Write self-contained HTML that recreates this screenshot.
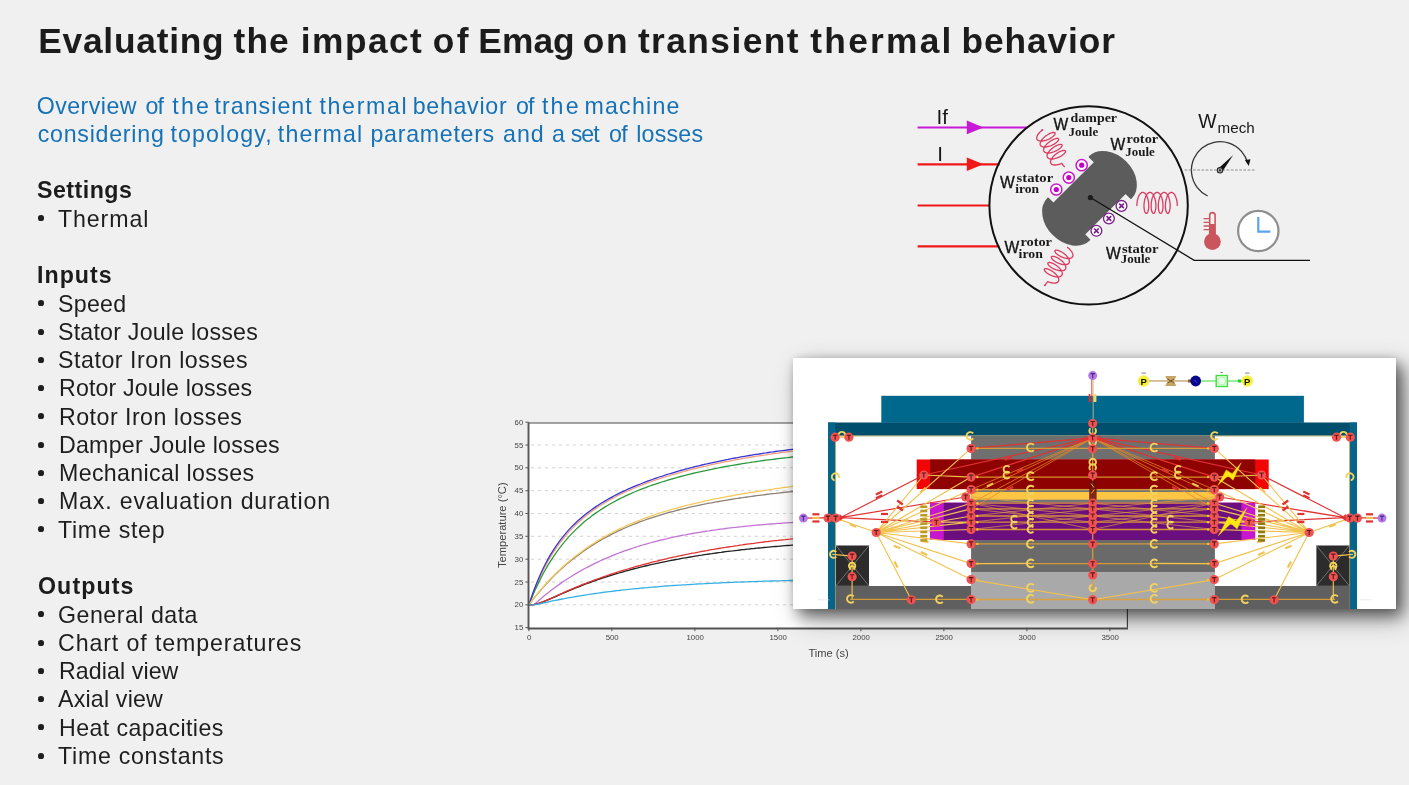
<!DOCTYPE html>
<html><head><meta charset="utf-8"><title>Evaluating the impact of Emag on transient thermal behavior</title>
<style>
html,body{margin:0;padding:0}
body{width:1409px;height:785px;overflow:hidden;background:#f0f0f0;position:relative;font-family:"Liberation Sans",sans-serif;color:#1e1e1e}
.abs{position:absolute}
h1,.l,svg{will-change:transform}
h1{position:absolute;left:0;margin:0;font-weight:bold;white-space:nowrap;color:#1c1c1c;width:1200px;height:44px}
h1 span,p.l span{position:absolute;top:0}
p.l{margin:0;left:0;width:760px;height:28px}
.l{position:absolute;white-space:nowrap;font-size:23.2px;line-height:28px}
.l.b{font-weight:bold;color:#1c1c1c}
.l.s{color:#1572b6}
.bu{position:absolute;left:37.85px;width:5.7px;height:5.7px;border-radius:50%;background:#1e1e1e}
svg text{font-family:"Liberation Sans",sans-serif}
.w{fill:#161616}
.wb{stroke:#161616;stroke-width:.35px}
.ss{font-family:"Liberation Serif",serif;font-weight:bold;font-size:12px;fill:#1a1a1a}
.ax text{font-size:7.8px;fill:#444}
.axt{font-size:11px;fill:#444}
.net{background:#fff;box-shadow:6px 7px 14px rgba(0,0,0,.50),9px 10px 26px rgba(0,0,0,.30),0 0 8px rgba(0,0,0,.10)}
.pp{font-size:9.5px;font-weight:bold;text-anchor:middle;fill:#111}
</style></head>
<body>
<!-- text -->
<h1 style="top:19.47px;font-size:35.3px;line-height:44px">
<span style="left:38.20px;letter-spacing:0.775px">Evaluating</span>
<span style="left:233.60px;letter-spacing:1.043px">the</span>
<span style="left:300.80px;letter-spacing:1.457px">impact</span>
<span style="left:432.80px;letter-spacing:2.439px">of</span>
<span style="left:478.30px;letter-spacing:0.081px">Emag</span>
<span style="left:582.80px;letter-spacing:1.639px">on</span>
<span style="left:637.90px;letter-spacing:1.449px">transient</span>
<span style="left:810.30px;letter-spacing:2.267px">thermal</span>
<span style="left:961.60px;letter-spacing:0.889px">behavior</span>
</h1>
<p class="l s" style="top:91.66px">
<span style="left:36.70px;letter-spacing:0.459px">Overview</span>
<span style="left:145.50px;letter-spacing:-0.796px">of</span>
<span style="left:172.30px;letter-spacing:2.231px">the</span>
<span style="left:214.50px;letter-spacing:1.038px">transient</span>
<span style="left:319.50px;letter-spacing:1.639px">thermal</span>
<span style="left:412.70px;letter-spacing:0.711px">behavior</span>
<span style="left:515.90px;letter-spacing:-0.796px">of</span>
<span style="left:541.90px;letter-spacing:2.231px">the</span>
<span style="left:584.40px;letter-spacing:1.242px">machine</span>
</p>
<p class="l s" style="top:119.93px">
<span style="left:37.70px;letter-spacing:0.751px">considering</span>
<span style="left:170.50px;letter-spacing:1.094px">topology,</span>
<span style="left:277.80px;letter-spacing:1.172px">thermal</span>
<span style="left:370.50px;letter-spacing:0.713px">parameters</span>
<span style="left:503.10px;letter-spacing:0.904px">and</span>
<span style="left:552.10px;letter-spacing:0.000px">a</span>
<span style="left:570.80px;letter-spacing:-1.045px">set</span>
<span style="left:609.10px;letter-spacing:-0.696px">of</span>
<span style="left:636.20px;letter-spacing:0.214px">losses</span>
</p>
<div class="l b" style="left:37.30px;top:176.47px;letter-spacing:0.489px">Settings</div>
<i class="bu" style="top:215.15px"></i>
<div class="l t" style="left:58.20px;top:204.74px;letter-spacing:0.885px">Thermal</div>
<div class="l b" style="left:37.40px;top:261.28px;letter-spacing:1.029px">Inputs</div>
<i class="bu" style="top:300.15px"></i>
<div class="l t" style="left:57.70px;top:289.55px;letter-spacing:0.262px">Speed</div>
<i class="bu" style="top:329.15px"></i>
<div class="l t" style="left:57.70px;top:317.82px;letter-spacing:0.216px">Stator Joule losses</div>
<i class="bu" style="top:357.15px"></i>
<div class="l t" style="left:57.70px;top:346.09px;letter-spacing:0.539px">Stator Iron losses</div>
<i class="bu" style="top:385.15px"></i>
<div class="l t" style="left:58.80px;top:374.36px;letter-spacing:0.138px">Rotor Joule losses</div>
<i class="bu" style="top:413.15px"></i>
<div class="l t" style="left:58.80px;top:402.63px;letter-spacing:0.477px">Rotor Iron losses</div>
<i class="bu" style="top:442.15px"></i>
<div class="l t" style="left:58.80px;top:430.90px;letter-spacing:0.227px">Damper Joule losses</div>
<i class="bu" style="top:470.15px"></i>
<div class="l t" style="left:58.80px;top:459.17px;letter-spacing:0.353px">Mechanical losses</div>
<i class="bu" style="top:498.15px"></i>
<div class="l t" style="left:58.80px;top:487.44px;letter-spacing:0.802px">Max. evaluation duration</div>
<i class="bu" style="top:526.15px"></i>
<div class="l t" style="left:58.20px;top:515.71px;letter-spacing:0.708px">Time step</div>
<div class="l b" style="left:37.60px;top:572.25px;letter-spacing:1.088px">Outputs</div>
<i class="bu" style="top:611.15px"></i>
<div class="l t" style="left:58.20px;top:600.52px;letter-spacing:0.494px">General data</div>
<i class="bu" style="top:640.15px"></i>
<div class="l t" style="left:58.20px;top:628.79px;letter-spacing:0.893px">Chart of temperatures</div>
<i class="bu" style="top:668.15px"></i>
<div class="l t" style="left:58.80px;top:657.06px;letter-spacing:0.078px">Radial view</div>
<i class="bu" style="top:696.15px"></i>
<div class="l t" style="left:58.00px;top:685.33px;letter-spacing:0.195px">Axial view</div>
<i class="bu" style="top:724.15px"></i>
<div class="l t" style="left:58.80px;top:713.60px;letter-spacing:0.412px">Heat capacities</div>
<i class="bu" style="top:753.15px"></i>
<div class="l t" style="left:58.20px;top:741.87px;letter-spacing:0.718px">Time constants</div>
<!-- machine diagram -->
<svg class="abs" style="left:900px;top:95px" width="430" height="225" viewBox="900 95 430 225">
<g stroke-width="2.2" fill="none">
<path d="M917.6,127.5H1027.6" stroke="#c81ad6"/>
<path d="M917.6,164.4H999.5M917.6,205.5H990M917.6,246.3H999.3" stroke="#f01818"/>
</g>
<path d="M966.8,120.4L983.5,127.4L966.8,134.2Z" fill="#c81ad6"/>
<path d="M966.8,157.4L983.5,164.3L966.8,171Z" fill="#f01818"/>
<text x="936.6" y="124.4" font-size="20.6" class="w">If</text>
<text x="937.2" y="160.8" font-size="20.6" class="w">I</text>
<circle cx="1088.6" cy="205.4" r="99.2" fill="none" stroke="#111" stroke-width="2"/>
<path transform="translate(1089.5,198.3) rotate(-45)" d="M-29.3,-21.7L29.3,-21.7L29.3,-29.3A21.9,29.3 0 0 1 29.3,29.3L29.3,21.7L-29.3,21.7L-29.3,29.3A21.9,29.3 0 0 1 -29.3,-29.3Z" fill="#5c5c5c" stroke="#5c5c5c" stroke-width="1.6" stroke-linejoin="round"/>
<g fill="none" stroke="#dc3c62" stroke-width="1.3" stroke-linecap="round" stroke-linejoin="round">
<path d="M1042.4,129.9 L1041.9,130.3 L1041.4,130.7 L1040.9,131.2 L1040.4,131.6 L1039.9,132.1 L1039.5,132.5 L1039.1,133.0 L1038.7,133.5 L1038.3,134.0 L1038.0,134.4 L1037.7,134.9 L1037.4,135.4 L1037.2,135.8 L1037.0,136.3 L1036.9,136.7 L1036.8,137.1 L1036.7,137.5 L1036.7,137.9 L1036.7,138.3 L1036.8,138.7 L1036.9,139.0 L1037.0,139.3 L1037.2,139.6 L1037.4,139.9 L1037.7,140.1 L1038.0,140.4 L1038.3,140.5 L1038.7,140.7 L1039.1,140.8 L1039.6,140.9 L1040.0,141.0 L1040.5,141.1 L1041.0,141.1 L1041.6,141.1 L1042.1,141.1 L1042.7,141.0 L1043.3,140.9 L1043.9,140.8 L1044.6,140.6 L1045.2,140.5 L1045.8,140.3 L1046.4,140.1 L1047.1,139.8 L1047.7,139.6 L1048.3,139.3 L1048.9,139.1 L1049.5,138.8 L1050.1,138.5 L1050.6,138.1 L1051.1,137.8 L1051.7,137.5 L1052.1,137.1 L1052.6,136.8 L1053.0,136.5 L1053.4,136.1 L1053.7,135.8 L1054.1,135.5 L1054.3,135.2 L1054.6,134.8 L1054.8,134.5 L1054.9,134.3 L1055.1,134.0 L1055.1,133.7 L1055.2,133.5 L1055.2,133.3 L1055.1,133.1 L1055.0,132.9 L1054.9,132.8 L1054.7,132.7 L1054.5,132.6 L1054.3,132.5 L1054.0,132.5 L1053.7,132.5 L1053.3,132.5 L1053.0,132.5 L1052.6,132.6 L1052.1,132.7 L1051.7,132.8 L1051.2,133.0 L1050.7,133.2 L1050.2,133.4 L1049.6,133.6 L1049.1,133.9 L1048.6,134.2 L1048.0,134.5 L1047.5,134.8 L1046.9,135.2 L1046.4,135.5 L1045.8,135.9 L1045.3,136.3 L1044.8,136.8 L1044.3,137.2 L1043.8,137.7 L1043.3,138.1 L1042.9,138.6 L1042.5,139.0 L1042.1,139.5 L1041.7,140.0 L1041.4,140.5 L1041.1,140.9 L1040.9,141.4 L1040.6,141.8 L1040.5,142.3 L1040.3,142.7 L1040.2,143.2 L1040.2,143.6 L1040.1,144.0 L1040.2,144.3 L1040.2,144.7 L1040.3,145.0 L1040.5,145.3 L1040.7,145.6 L1040.9,145.9 L1041.2,146.1 L1041.5,146.4 L1041.8,146.5 L1042.2,146.7 L1042.6,146.8 L1043.1,146.9 L1043.5,147.0 L1044.0,147.1 L1044.5,147.1 L1045.1,147.1 L1045.7,147.0 L1046.2,147.0 L1046.8,146.9 L1047.5,146.7 L1048.1,146.6 L1048.7,146.4 L1049.3,146.2 L1050.0,146.0 L1050.6,145.8 L1051.2,145.5 L1051.8,145.3 L1052.4,145.0 L1053.0,144.7 L1053.6,144.4 L1054.1,144.1 L1054.7,143.7 L1055.2,143.4 L1055.6,143.1 L1056.1,142.7 L1056.5,142.4 L1056.9,142.1 L1057.2,141.7 L1057.5,141.4 L1057.8,141.1 L1058.1,140.8 L1058.3,140.5 L1058.4,140.2 L1058.5,139.9 L1058.6,139.7 L1058.6,139.5 L1058.6,139.2 L1058.6,139.1 L1058.5,138.9 L1058.3,138.7 L1058.2,138.6 L1058.0,138.5 L1057.7,138.5 L1057.4,138.4 L1057.1,138.4 L1056.7,138.4 L1056.4,138.5 L1056.0,138.6 L1055.5,138.7 L1055.1,138.8 L1054.6,139.0 L1054.1,139.2 L1053.6,139.4 L1053.0,139.6 L1052.5,139.9 L1052.0,140.2 L1051.4,140.5 L1050.9,140.8 L1050.3,141.2 L1049.8,141.6 L1049.2,142.0 L1048.7,142.4 L1048.2,142.8 L1047.7,143.2 L1047.2,143.7 L1046.7,144.1 L1046.3,144.6 L1045.9,145.1 L1045.5,145.5 L1045.1,146.0 L1044.8,146.5 L1044.5,147.0 L1044.3,147.4 L1044.1,147.9 L1043.9,148.3 L1043.8,148.8 L1043.7,149.2 L1043.6,149.6 L1043.6,150.0 L1043.6,150.3 L1043.7,150.7 L1043.8,151.0 L1044.0,151.3 L1044.2,151.6 L1044.4,151.9 L1044.7,152.1 L1045.0,152.3 L1045.3,152.5 L1045.7,152.7 L1046.1,152.8 L1046.6,152.9 L1047.0,153.0 L1047.5,153.0 L1048.1,153.0 L1048.6,153.0 L1049.2,153.0 L1049.8,152.9 L1050.4,152.8 L1051.0,152.7 L1051.6,152.6 L1052.2,152.4 L1052.8,152.2 L1053.5,152.0 L1054.1,151.7 L1054.7,151.5 L1055.3,151.2 L1055.9,150.9 L1056.5,150.6 L1057.1,150.3 L1057.6,150.0 L1058.2,149.7 L1058.7,149.4 L1059.1,149.0 L1059.6,148.7 L1060.0,148.3 L1060.4,148.0 L1060.7,147.7 L1061.0,147.3 L1061.3,147.0 L1061.5,146.7 L1061.7,146.4 L1061.9,146.1 L1062.0,145.9 L1062.0,145.6 L1062.1,145.4 L1062.1,145.2 L1062.0,145.0 L1061.9,144.8 L1061.8,144.7 L1061.6,144.6 L1061.4,144.5 L1061.1,144.4 L1060.8,144.4 L1060.5,144.4 L1060.2,144.4 L1059.8,144.5 L1059.4,144.6 L1058.9,144.7 L1058.5,144.8 L1058.0,145.0 L1057.5,145.2 L1057.0,145.4 L1056.4,145.6 L1055.9,145.9 L1055.3,146.2 L1054.8,146.5 L1054.2,146.8 L1053.7,147.2 L1053.1,147.6 L1052.6,148.0 L1052.1,148.4 L1051.6,148.8 L1051.1,149.3 L1050.6,149.7 L1050.1,150.2 L1049.7,150.6 L1049.3,151.1 L1048.9,151.6 L1048.6,152.0 L1048.2,152.5 L1048.0,153.0 L1047.7,153.4 L1047.5,153.9 L1047.3,154.3 L1047.2,154.8 L1047.1,155.2 L1047.1,155.6 L1047.0,156.0 L1047.1,156.4 L1047.2,156.7 L1047.3,157.0 L1047.4,157.4 L1047.6,157.6 L1047.9,157.9 L1048.1,158.1 L1048.5,158.3 L1048.8,158.5 L1049.2,158.7 L1049.6,158.8 L1050.1,158.9 L1050.5,159.0 L1051.0,159.0 L1051.6,159.0 L1052.1,159.0 L1052.7,159.0 L1053.3,158.9 L1053.9,158.8 L1054.5,158.7 L1055.1,158.5 L1055.7,158.3 L1056.4,158.1 L1057.0,157.9 L1057.6,157.7 L1058.2,157.4 L1058.9,157.2 L1059.5,156.9 L1060.0,156.6 L1060.6,156.3 L1061.1,156.0 L1061.7,155.6 L1062.2,155.3 L1062.6,155.0 L1063.1,154.6 L1063.5,154.3 L1063.9,153.9 L1064.2,153.6 L1064.5,153.3 L1064.8,153.0 L1065.0,152.7 L1065.2,152.4 L1065.3,152.1 L1065.4,151.8 L1065.5,151.6 L1065.5,151.4 L1065.5,151.2 L1065.4,151.0 L1065.3,150.8 L1065.2,150.7 L1065.0,150.6 L1064.8,150.5 L1064.5,150.4 L1064.2,150.4 L1063.9,150.4 L1063.6,150.4 L1063.2,150.5 L1062.8,150.5 L1062.3,150.6 L1061.9,150.8 L1061.4,151.0 L1060.9,151.2 L1060.4,151.4 L1059.8,151.6 L1059.3,151.9 L1058.7,152.2 L1058.2,152.5 L1057.6,152.9 L1057.1,153.2 L1056.5,153.6 L1056.0,154.0 L1055.5,154.4 L1055.0,154.8 L1054.5,155.3 L1054.0,155.7 L1053.5,156.2 L1053.1,156.7 L1052.7,157.1 L1052.3,157.6 L1052.0,158.1 L1051.7,158.5 L1051.4,159.0 L1051.1,159.5 L1050.9,159.9 L1050.8,160.4 L1050.6,160.8 L1050.5,161.2 L1050.5,161.6 L1050.5,162.0 L1050.5,162.4 L1050.6,162.7 L1050.7,163.1 L1050.9,163.4 L1051.1,163.6 L1051.3,163.9 L1051.6,164.1 L1051.9,164.3 L1052.3,164.5 L1052.7,164.7 L1053.1,164.8 L1053.6,164.9 L1054.0,165.0 L1054.5,165.0 L1055.1,165.0 L1055.6,165.0 L1056.2,164.9 L1056.8,164.9 L1057.4,164.7 L1058.0,164.6 L1058.6,164.5 L1059.3,164.3 L1059.9,164.1 L1060.5,163.9 L1061.1,163.6 L1061.8,163.4 Q1063.4,166.0 1064.4,166.6"/>
<path d="M1136.9,205.5 L1136.9,204.8 L1136.9,204.0 L1137.0,203.3 L1137.1,202.5 L1137.2,201.8 L1137.3,201.0 L1137.4,200.3 L1137.6,199.5 L1137.8,198.8 L1138.0,198.2 L1138.2,197.5 L1138.4,196.9 L1138.7,196.3 L1139.0,195.7 L1139.3,195.2 L1139.6,194.7 L1139.9,194.2 L1140.2,193.8 L1140.5,193.5 L1140.9,193.2 L1141.2,192.9 L1141.6,192.7 L1141.9,192.5 L1142.3,192.4 L1142.7,192.4 L1143.1,192.4 L1143.4,192.5 L1143.8,192.6 L1144.2,192.8 L1144.5,193.0 L1144.9,193.3 L1145.2,193.6 L1145.5,194.0 L1145.9,194.4 L1146.2,194.8 L1146.5,195.4 L1146.7,195.9 L1147.0,196.5 L1147.3,197.1 L1147.5,197.7 L1147.7,198.4 L1147.9,199.1 L1148.1,199.8 L1148.2,200.5 L1148.4,201.3 L1148.5,202.0 L1148.6,202.8 L1148.6,203.5 L1148.7,204.3 L1148.7,205.0 L1148.7,205.8 L1148.7,206.5 L1148.7,207.2 L1148.7,207.9 L1148.6,208.5 L1148.5,209.1 L1148.4,209.7 L1148.3,210.3 L1148.2,210.8 L1148.0,211.3 L1147.9,211.7 L1147.7,212.1 L1147.5,212.4 L1147.4,212.7 L1147.2,213.0 L1147.0,213.2 L1146.8,213.3 L1146.6,213.4 L1146.4,213.4 L1146.2,213.4 L1146.0,213.3 L1145.8,213.2 L1145.6,213.0 L1145.4,212.7 L1145.2,212.4 L1145.0,212.1 L1144.8,211.7 L1144.7,211.3 L1144.5,210.8 L1144.4,210.3 L1144.3,209.7 L1144.2,209.1 L1144.1,208.5 L1144.1,207.8 L1144.0,207.2 L1144.0,206.5 L1144.0,205.7 L1144.0,205.0 L1144.0,204.3 L1144.1,203.5 L1144.2,202.8 L1144.3,202.0 L1144.4,201.3 L1144.5,200.5 L1144.7,199.8 L1144.9,199.1 L1145.0,198.4 L1145.3,197.7 L1145.5,197.1 L1145.7,196.5 L1146.0,195.9 L1146.3,195.3 L1146.6,194.8 L1146.9,194.4 L1147.2,194.0 L1147.6,193.6 L1147.9,193.3 L1148.2,193.0 L1148.6,192.8 L1149.0,192.6 L1149.3,192.5 L1149.7,192.4 L1150.1,192.4 L1150.4,192.4 L1150.8,192.5 L1151.2,192.7 L1151.5,192.9 L1151.9,193.2 L1152.2,193.5 L1152.6,193.8 L1152.9,194.2 L1153.2,194.7 L1153.5,195.2 L1153.8,195.7 L1154.0,196.3 L1154.3,196.9 L1154.5,197.5 L1154.8,198.2 L1155.0,198.9 L1155.1,199.6 L1155.3,200.3 L1155.5,201.0 L1155.6,201.8 L1155.7,202.5 L1155.8,203.3 L1155.8,204.0 L1155.9,204.8 L1155.9,205.5 L1155.9,206.2 L1155.9,207.0 L1155.8,207.6 L1155.8,208.3 L1155.7,208.9 L1155.6,209.5 L1155.5,210.1 L1155.4,210.6 L1155.2,211.1 L1155.1,211.6 L1154.9,212.0 L1154.7,212.3 L1154.6,212.6 L1154.4,212.9 L1154.2,213.1 L1154.0,213.3 L1153.8,213.4 L1153.6,213.4 L1153.4,213.4 L1153.2,213.3 L1153.0,213.2 L1152.8,213.0 L1152.6,212.8 L1152.4,212.5 L1152.2,212.2 L1152.0,211.8 L1151.9,211.4 L1151.7,211.0 L1151.6,210.5 L1151.5,209.9 L1151.4,209.3 L1151.3,208.7 L1151.2,208.1 L1151.2,207.4 L1151.1,206.7 L1151.1,206.0 L1151.1,205.3 L1151.2,204.5 L1151.2,203.8 L1151.3,203.0 L1151.4,202.3 L1151.5,201.5 L1151.6,200.8 L1151.8,200.0 L1151.9,199.3 L1152.1,198.6 L1152.3,197.9 L1152.6,197.3 L1152.8,196.7 L1153.1,196.1 L1153.3,195.5 L1153.6,195.0 L1153.9,194.5 L1154.2,194.1 L1154.6,193.7 L1154.9,193.4 L1155.3,193.1 L1155.6,192.8 L1156.0,192.6 L1156.3,192.5 L1156.7,192.4 L1157.1,192.4 L1157.4,192.4 L1157.8,192.5 L1158.2,192.6 L1158.5,192.8 L1158.9,193.1 L1159.2,193.4 L1159.6,193.7 L1159.9,194.1 L1160.2,194.5 L1160.5,195.0 L1160.8,195.5 L1161.1,196.1 L1161.4,196.7 L1161.6,197.3 L1161.8,197.9 L1162.0,198.6 L1162.2,199.3 L1162.4,200.0 L1162.5,200.8 L1162.7,201.5 L1162.8,202.3 L1162.9,203.0 L1162.9,203.8 L1163.0,204.5 L1163.0,205.3 L1163.0,206.0 L1163.0,206.7 L1163.0,207.4 L1162.9,208.1 L1162.9,208.7 L1162.8,209.3 L1162.7,209.9 L1162.6,210.5 L1162.4,211.0 L1162.3,211.4 L1162.1,211.8 L1161.9,212.2 L1161.8,212.5 L1161.6,212.8 L1161.4,213.0 L1161.2,213.2 L1161.0,213.3 L1160.8,213.4 L1160.6,213.4 L1160.4,213.4 L1160.2,213.3 L1160.0,213.1 L1159.8,212.9 L1159.6,212.6 L1159.4,212.3 L1159.2,212.0 L1159.1,211.6 L1158.9,211.1 L1158.8,210.6 L1158.7,210.1 L1158.6,209.5 L1158.5,208.9 L1158.4,208.3 L1158.3,207.6 L1158.3,207.0 L1158.3,206.2 L1158.3,205.5 L1158.3,204.8 L1158.3,204.0 L1158.4,203.3 L1158.5,202.5 L1158.6,201.8 L1158.7,201.0 L1158.8,200.3 L1159.0,199.6 L1159.2,198.9 L1159.4,198.2 L1159.6,197.5 L1159.8,196.9 L1160.1,196.3 L1160.4,195.7 L1160.7,195.2 L1161.0,194.7 L1161.3,194.2 L1161.6,193.8 L1161.9,193.5 L1162.3,193.2 L1162.6,192.9 L1163.0,192.7 L1163.4,192.5 L1163.7,192.4 L1164.1,192.4 L1164.5,192.4 L1164.8,192.5 L1165.2,192.6 L1165.6,192.8 L1165.9,193.0 L1166.3,193.3 L1166.6,193.6 L1166.9,194.0 L1167.3,194.4 L1167.6,194.8 L1167.9,195.3 L1168.1,195.9 L1168.4,196.5 L1168.7,197.1 L1168.9,197.7 L1169.1,198.4 L1169.3,199.1 L1169.5,199.8 L1169.6,200.5 L1169.8,201.3 L1169.9,202.0 L1170.0,202.8 L1170.1,203.5 L1170.1,204.3 L1170.1,205.0 L1170.2,205.7 L1170.2,206.5 L1170.1,207.2 L1170.1,207.8 L1170.0,208.5 L1169.9,209.1 L1169.8,209.7 L1169.7,210.3 L1169.6,210.8 L1169.5,211.3 L1169.3,211.7 L1169.1,212.1 L1169.0,212.4 L1168.8,212.7 L1168.6,213.0 L1168.4,213.2 L1168.2,213.3 L1168.0,213.4 L1167.8,213.4 L1167.6,213.4 L1167.4,213.3 L1167.2,213.2 L1167.0,213.0 L1166.8,212.7 L1166.6,212.4 L1166.4,212.1 L1166.3,211.7 L1166.1,211.3 L1166.0,210.8 L1165.8,210.3 L1165.7,209.7 L1165.6,209.1 L1165.5,208.5 L1165.5,207.9 L1165.4,207.2 L1165.4,206.5 L1165.4,205.8 L1165.4,205.0 L1165.5,204.3 L1165.5,203.5 L1165.6,202.8 L1165.7,202.0 L1165.8,201.3 L1165.9,200.5 L1166.1,199.8 L1166.3,199.1 L1166.5,198.4 L1166.7,197.7 L1166.9,197.1 L1167.1,196.5 L1167.4,195.9 L1167.7,195.4 L1168.0,194.8 L1168.3,194.4 L1168.6,194.0 L1169.0,193.6 L1169.3,193.3 L1169.6,193.0 L1170.0,192.8 L1170.4,192.6 L1170.7,192.5 L1171.1,192.4 L1171.5,192.4 L1171.8,192.4 L1172.2,192.5 L1172.6,192.7 L1172.9,192.9 L1173.3,193.2 L1173.6,193.5 L1174.0,193.8 L1174.3,194.2 L1174.6,194.7 L1174.9,195.2 L1175.2,195.7 L1175.5,196.3 L1175.7,196.9 L1175.9,197.5 L1176.2,198.2 L1176.4,198.8 L1176.6,199.5 L1176.7,200.3 L1176.9,201.0 L1177.0,201.8 L1177.1,202.5 L1177.2,203.3 L1177.2,204.0 L1177.3,204.8 L1177.3,205.5"/>
<path d="M1067.5,247.4 L1068.0,247.8 L1068.5,248.2 L1069.0,248.6 L1069.5,249.0 L1069.9,249.5 L1070.3,250.0 L1070.7,250.4 L1071.1,250.9 L1071.4,251.3 L1071.8,251.8 L1072.0,252.3 L1072.3,252.7 L1072.5,253.2 L1072.7,253.6 L1072.8,254.1 L1072.9,254.5 L1072.9,254.9 L1073.0,255.3 L1072.9,255.7 L1072.9,256.0 L1072.8,256.4 L1072.6,256.7 L1072.4,257.0 L1072.2,257.2 L1071.9,257.5 L1071.6,257.7 L1071.3,257.9 L1070.9,258.1 L1070.5,258.2 L1070.1,258.3 L1069.7,258.4 L1069.2,258.5 L1068.7,258.5 L1068.1,258.5 L1067.6,258.5 L1067.0,258.4 L1066.4,258.4 L1065.8,258.2 L1065.2,258.1 L1064.6,258.0 L1064.0,257.8 L1063.4,257.6 L1062.8,257.4 L1062.2,257.1 L1061.6,256.9 L1061.0,256.6 L1060.4,256.3 L1059.9,256.0 L1059.3,255.7 L1058.8,255.4 L1058.3,255.1 L1057.9,254.8 L1057.4,254.4 L1057.0,254.1 L1056.6,253.8 L1056.3,253.5 L1056.0,253.2 L1055.7,252.8 L1055.5,252.5 L1055.3,252.3 L1055.2,252.0 L1055.0,251.7 L1055.0,251.5 L1054.9,251.2 L1054.9,251.0 L1055.0,250.8 L1055.1,250.7 L1055.2,250.5 L1055.4,250.4 L1055.6,250.3 L1055.8,250.2 L1056.1,250.2 L1056.4,250.2 L1056.7,250.2 L1057.1,250.2 L1057.5,250.3 L1057.9,250.4 L1058.4,250.5 L1058.8,250.7 L1059.3,250.9 L1059.8,251.1 L1060.3,251.3 L1060.8,251.6 L1061.4,251.8 L1061.9,252.1 L1062.4,252.5 L1062.9,252.8 L1063.5,253.2 L1064.0,253.6 L1064.5,254.0 L1065.0,254.4 L1065.5,254.8 L1066.0,255.2 L1066.4,255.7 L1066.8,256.2 L1067.2,256.6 L1067.6,257.1 L1067.9,257.5 L1068.2,258.0 L1068.5,258.5 L1068.8,258.9 L1069.0,259.4 L1069.1,259.8 L1069.3,260.3 L1069.3,260.7 L1069.4,261.1 L1069.4,261.5 L1069.4,261.9 L1069.3,262.2 L1069.2,262.5 L1069.0,262.9 L1068.9,263.2 L1068.6,263.4 L1068.4,263.7 L1068.1,263.9 L1067.7,264.1 L1067.4,264.2 L1067.0,264.4 L1066.5,264.5 L1066.1,264.6 L1065.6,264.6 L1065.1,264.7 L1064.5,264.7 L1064.0,264.6 L1063.4,264.6 L1062.8,264.5 L1062.2,264.4 L1061.6,264.3 L1061.0,264.1 L1060.4,263.9 L1059.8,263.7 L1059.2,263.5 L1058.6,263.3 L1058.0,263.0 L1057.4,262.7 L1056.8,262.5 L1056.3,262.2 L1055.7,261.8 L1055.2,261.5 L1054.7,261.2 L1054.3,260.9 L1053.8,260.6 L1053.4,260.2 L1053.1,259.9 L1052.7,259.6 L1052.4,259.3 L1052.2,259.0 L1051.9,258.7 L1051.7,258.4 L1051.6,258.1 L1051.5,257.8 L1051.4,257.6 L1051.4,257.4 L1051.4,257.2 L1051.4,257.0 L1051.5,256.8 L1051.7,256.7 L1051.8,256.5 L1052.0,256.5 L1052.3,256.4 L1052.6,256.3 L1052.9,256.3 L1053.2,256.4 L1053.6,256.4 L1054.0,256.5 L1054.4,256.6 L1054.9,256.7 L1055.3,256.8 L1055.8,257.0 L1056.3,257.2 L1056.8,257.5 L1057.3,257.7 L1057.9,258.0 L1058.4,258.3 L1058.9,258.7 L1059.5,259.0 L1060.0,259.4 L1060.5,259.8 L1061.0,260.2 L1061.5,260.6 L1062.0,261.0 L1062.5,261.4 L1062.9,261.9 L1063.3,262.4 L1063.7,262.8 L1064.1,263.3 L1064.4,263.7 L1064.7,264.2 L1065.0,264.7 L1065.2,265.1 L1065.4,265.6 L1065.6,266.0 L1065.7,266.5 L1065.8,266.9 L1065.9,267.3 L1065.9,267.7 L1065.8,268.0 L1065.7,268.4 L1065.6,268.7 L1065.5,269.0 L1065.3,269.3 L1065.1,269.6 L1064.8,269.8 L1064.5,270.1 L1064.1,270.3 L1063.8,270.4 L1063.4,270.5 L1062.9,270.7 L1062.5,270.7 L1062.0,270.8 L1061.4,270.8 L1060.9,270.8 L1060.4,270.8 L1059.8,270.7 L1059.2,270.6 L1058.6,270.5 L1058.0,270.4 L1057.4,270.2 L1056.8,270.0 L1056.2,269.8 L1055.5,269.6 L1054.9,269.4 L1054.4,269.1 L1053.8,268.9 L1053.2,268.6 L1052.6,268.3 L1052.1,268.0 L1051.6,267.6 L1051.1,267.3 L1050.7,267.0 L1050.2,266.7 L1049.8,266.3 L1049.5,266.0 L1049.1,265.7 L1048.8,265.4 L1048.6,265.1 L1048.4,264.8 L1048.2,264.5 L1048.0,264.2 L1047.9,264.0 L1047.9,263.7 L1047.8,263.5 L1047.8,263.3 L1047.9,263.1 L1048.0,262.9 L1048.1,262.8 L1048.3,262.7 L1048.5,262.6 L1048.8,262.5 L1049.0,262.5 L1049.4,262.5 L1049.7,262.5 L1050.1,262.5 L1050.5,262.6 L1050.9,262.7 L1051.4,262.9 L1051.8,263.0 L1052.3,263.2 L1052.8,263.4 L1053.3,263.7 L1053.8,263.9 L1054.4,264.2 L1054.9,264.5 L1055.4,264.8 L1056.0,265.2 L1056.5,265.6 L1057.0,265.9 L1057.5,266.4 L1058.0,266.8 L1058.5,267.2 L1059.0,267.6 L1059.4,268.1 L1059.8,268.6 L1060.2,269.0 L1060.6,269.5 L1060.9,269.9 L1061.2,270.4 L1061.5,270.9 L1061.7,271.3 L1061.9,271.8 L1062.1,272.2 L1062.2,272.7 L1062.3,273.1 L1062.3,273.5 L1062.3,273.9 L1062.3,274.2 L1062.2,274.6 L1062.1,274.9 L1061.9,275.2 L1061.7,275.5 L1061.5,275.8 L1061.2,276.0 L1060.9,276.2 L1060.5,276.4 L1060.2,276.6 L1059.8,276.7 L1059.3,276.8 L1058.8,276.9 L1058.4,276.9 L1057.8,277.0 L1057.3,277.0 L1056.7,276.9 L1056.2,276.9 L1055.6,276.8 L1055.0,276.7 L1054.4,276.5 L1053.8,276.4 L1053.2,276.2 L1052.5,276.0 L1051.9,275.7 L1051.3,275.5 L1050.7,275.2 L1050.2,275.0 L1049.6,274.7 L1049.0,274.4 L1048.5,274.1 L1048.0,273.8 L1047.5,273.4 L1047.1,273.1 L1046.6,272.8 L1046.2,272.5 L1045.9,272.1 L1045.5,271.8 L1045.3,271.5 L1045.0,271.2 L1044.8,270.9 L1044.6,270.6 L1044.5,270.3 L1044.4,270.1 L1044.3,269.8 L1044.3,269.6 L1044.3,269.4 L1044.4,269.2 L1044.5,269.1 L1044.6,268.9 L1044.8,268.8 L1045.0,268.7 L1045.2,268.7 L1045.5,268.6 L1045.8,268.6 L1046.2,268.7 L1046.6,268.7 L1047.0,268.8 L1047.4,268.9 L1047.9,269.0 L1048.3,269.2 L1048.8,269.4 L1049.3,269.6 L1049.8,269.8 L1050.3,270.1 L1050.9,270.4 L1051.4,270.7 L1051.9,271.0 L1052.5,271.4 L1053.0,271.8 L1053.5,272.1 L1054.0,272.5 L1054.5,273.0 L1055.0,273.4 L1055.5,273.8 L1055.9,274.3 L1056.3,274.8 L1056.7,275.2 L1057.1,275.7 L1057.4,276.1 L1057.7,276.6 L1057.9,277.1 L1058.2,277.5 L1058.4,278.0 L1058.5,278.4 L1058.6,278.8 L1058.7,279.3 L1058.8,279.7 L1058.8,280.1 L1058.7,280.4 L1058.6,280.8 L1058.5,281.1 L1058.3,281.4 L1058.1,281.7 L1057.9,282.0 L1057.6,282.2 L1057.3,282.4 L1057.0,282.6 L1056.6,282.7 L1056.2,282.9 L1055.7,283.0 L1055.2,283.0 L1054.7,283.1 L1054.2,283.1 L1053.7,283.1 L1053.1,283.1 L1052.6,283.0 L1052.0,282.9 L1051.4,282.8 L1050.8,282.6 L1050.1,282.5 L1049.5,282.3 L1048.9,282.1 L1048.3,281.9 L1047.7,281.6 Q1045.9,283.8 1044.8,285.3"/>
</g>
<circle cx="1042.4" cy="129.9" r="1.0" fill="#dc3c62"/><circle cx="1044.8" cy="285.3" r="0.9" fill="#dc3c62"/>
<circle cx="1081.7" cy="165.2" r="5.6" fill="#fff" stroke="#c81ac8" stroke-width="1.5"/><circle cx="1081.7" cy="165.2" r="2.6" fill="#c400c4"/>
<circle cx="1068.8" cy="177.6" r="5.6" fill="#fff" stroke="#c81ac8" stroke-width="1.5"/><circle cx="1068.8" cy="177.6" r="2.6" fill="#c400c4"/>
<circle cx="1056.3" cy="189.5" r="5.6" fill="#fff" stroke="#c81ac8" stroke-width="1.5"/><circle cx="1056.3" cy="189.5" r="2.6" fill="#c400c4"/>
<circle cx="1121.5" cy="205.9" r="5.4" fill="#fff" stroke="#7a1e8c" stroke-width="1.3"/><path d="M1119.2,203.6l4.6,4.6M1123.8,203.6l-4.6,4.6" stroke="#7a1e8c" stroke-width="1.7"/>
<circle cx="1108.9" cy="218.5" r="5.4" fill="#fff" stroke="#7a1e8c" stroke-width="1.3"/><path d="M1106.6000000000001,216.2l4.6,4.6M1111.2,216.2l-4.6,4.6" stroke="#7a1e8c" stroke-width="1.7"/>
<circle cx="1096.4" cy="230.8" r="5.4" fill="#fff" stroke="#7a1e8c" stroke-width="1.3"/><path d="M1094.1000000000001,228.5l4.6,4.6M1098.7,228.5l-4.6,4.6" stroke="#7a1e8c" stroke-width="1.7"/>
<path d="M1090.4,197.6L1194.2,260.3H1310" fill="none" stroke="#111" stroke-width="1.2"/>
<circle cx="1090.4" cy="197.6" r="2.6" fill="#1c1c1c"/>
<text x="1053.6" y="130.4" font-size="15.6" class="w wb">W</text><text x="1070.6" y="121.6" class="ss" textLength="46.4" lengthAdjust="spacingAndGlyphs">damper</text><text x="1068.6" y="136.4" class="ss" textLength="29.6" lengthAdjust="spacingAndGlyphs">Joule</text>
<text x="1110.4" y="150.2" font-size="15.6" class="w wb">W</text><text x="1126.6" y="143.3" class="ss" textLength="31.6" lengthAdjust="spacingAndGlyphs">rotor</text><text x="1125.2" y="155.7" class="ss" textLength="29.6" lengthAdjust="spacingAndGlyphs">Joule</text>
<text x="1000.0" y="188.4" font-size="15.6" class="w wb">W</text><text x="1016.6" y="181.6" class="ss" textLength="36.6" lengthAdjust="spacingAndGlyphs">stator</text><text x="1015.3" y="192.9" class="ss" textLength="23.8" lengthAdjust="spacingAndGlyphs">iron</text>
<text x="1004.4" y="252.8" font-size="15.6" class="w wb">W</text><text x="1020.4" y="246.1" class="ss" textLength="31.6" lengthAdjust="spacingAndGlyphs">rotor</text><text x="1018.6" y="258.0" class="ss" textLength="24.2" lengthAdjust="spacingAndGlyphs">iron</text>
<text x="1105.9" y="259.2" font-size="15.6" class="w wb">W</text><text x="1121.9" y="252.8" class="ss" textLength="36.6" lengthAdjust="spacingAndGlyphs">stator</text><text x="1120.8" y="263.3" class="ss" textLength="29.6" lengthAdjust="spacingAndGlyphs">Joule</text>
<text x="1198.2" y="128.1" font-size="19.4" class="w">W</text>
<text x="1217.6" y="133.4" font-size="14.6" class="w" textLength="37.2" lengthAdjust="spacingAndGlyphs">mech</text>
<path d="M1207.6,196.0A28.6,28.6 0 1 1 1247.8,163.4" fill="none" stroke="#333" stroke-width="1.3"/>
<path d="M1244.9,160.0L1250.4,159.2L1248.8,166.0Z" fill="#111"/>
<path d="M1184.7,170H1254.7" stroke="#8a8a8a" stroke-width="1" stroke-dasharray="2.6 1.6"/>
<path d="M1233.2,155L1222.1,172.0L1218.3,168.6Z" fill="#111"/>
<circle cx="1220.0" cy="170.3" r="2.7" fill="#bbb" stroke="#222" stroke-width="1.1"/><circle cx="1220.0" cy="170.3" r="1.1" fill="#222"/>
<circle cx="1212.4" cy="241.6" r="8.4" fill="#c9565c"/>
<path d="M1208.9,236V215.2a3.5,3.5 0 0 1 7,0V236Z" fill="#c9565c"/>
<path d="M1210.5,224V215.4a1.9,1.9 0 0 1 3.8,0V224Z" fill="#f7efef"/>
<path d="M1203.6,218.6h5.4M1203.6,222.3h5.4M1203.6,226h5.4M1203.6,229.7h5.4" stroke="#c9565c" stroke-width="1.3"/>
<circle cx="1258.3" cy="231" r="20.2" fill="#fff" stroke="#8e8e8e" stroke-width="2.2"/>
<path d="M1258.3,216.9V231.6H1270.4" fill="none" stroke="#5aa4ea" stroke-width="2.2"/>
</svg>
<!-- chart -->
<svg class="abs" style="left:490px;top:410px" width="660" height="260" viewBox="490 410 660 260">
<rect x="528.9" y="423.0" width="598.5000000000001" height="204.70000000000005" fill="#fff"/>
<path d="M530.9,604.8H1127.4M530.9,582.0H1127.4M530.9,559.2H1127.4M530.9,536.3H1127.4M530.9,513.5H1127.4M530.9,490.7H1127.4M530.9,467.8H1127.4M530.9,445.0H1127.4" stroke="#d2d2d2" stroke-width="1" stroke-dasharray="3.2 3.8" fill="none"/>
<path d="M528.9,604.8 L531.3,598.2 L533.6,591.9 L536.0,586.0 L538.4,580.5 L540.8,575.3 L543.1,570.5 L545.5,565.9 L547.9,561.5 L550.2,557.4 L552.6,553.6 L555.0,549.9 L557.4,546.5 L559.7,543.2 L562.1,540.1 L564.5,537.1 L566.8,534.3 L569.2,531.6 L571.6,529.1 L574.0,526.6 L576.3,524.3 L578.7,522.1 L581.1,520.0 L583.4,517.9 L585.8,516.0 L588.2,514.1 L590.6,512.3 L592.9,510.6 L595.3,508.9 L597.7,507.3 L600.0,505.7 L602.4,504.2 L604.8,502.8 L607.2,501.4 L609.5,500.0 L611.9,498.7 L614.3,497.5 L616.6,496.2 L619.0,495.0 L621.4,493.9 L623.8,492.7 L626.1,491.6 L628.5,490.6 L630.9,489.5 L633.2,488.5 L635.6,487.5 L638.0,486.5 L640.4,485.6 L642.7,484.7 L645.1,483.8 L647.5,482.9 L649.8,482.0 L652.2,481.2 L654.6,480.4 L657.0,479.5 L659.3,478.8 L661.7,478.0 L664.1,477.2 L666.4,476.5 L668.8,475.8 L671.2,475.0 L673.6,474.3 L675.9,473.6 L678.3,473.0 L680.7,472.3 L683.0,471.7 L685.4,471.0 L687.8,470.4 L690.2,469.8 L692.5,469.2 L694.9,468.6 L697.3,468.0 L699.6,467.4 L702.0,466.9 L704.4,466.3 L706.8,465.8 L709.1,465.2 L711.5,464.7 L713.9,464.2 L716.2,463.7 L718.6,463.2 L721.0,462.7 L723.4,462.2 L725.7,461.7 L728.1,461.3 L730.5,460.8 L732.8,460.4 L735.2,459.9 L737.6,459.5 L740.0,459.1 L742.3,458.6 L744.7,458.2 L747.1,457.8 L749.4,457.4 L751.8,457.0 L754.2,456.6 L756.6,456.2 L758.9,455.9 L761.3,455.5 L763.7,455.1 L766.0,454.8 L768.4,454.4 L770.8,454.1 L773.2,453.7 L775.5,453.4 L777.9,453.1 L780.3,452.7 L782.6,452.4 L785.0,452.1 L787.4,451.8 L789.8,451.5 L792.1,451.2 L794.5,450.9 L796.9,450.6 L799.2,450.3 L801.6,450.0 L804.0,449.8 L806.4,449.5 L808.7,449.2 L811.1,449.0" fill="none" stroke="#f0a078" stroke-width="1.3"/>
<path d="M528.9,604.8 L531.3,598.9 L533.6,593.4 L536.0,588.1 L538.4,583.1 L540.8,578.3 L543.1,573.8 L545.5,569.5 L547.9,565.4 L550.2,561.6 L552.6,557.9 L555.0,554.4 L557.4,551.0 L559.7,547.8 L562.1,544.8 L564.5,541.9 L566.8,539.1 L569.2,536.4 L571.6,533.9 L574.0,531.4 L576.3,529.1 L578.7,526.9 L581.1,524.7 L583.4,522.6 L585.8,520.6 L588.2,518.7 L590.6,516.9 L592.9,515.1 L595.3,513.4 L597.7,511.8 L600.0,510.2 L602.4,508.6 L604.8,507.1 L607.2,505.7 L609.5,504.3 L611.9,503.0 L614.3,501.7 L616.6,500.4 L619.0,499.2 L621.4,498.0 L623.8,496.8 L626.1,495.7 L628.5,494.6 L630.9,493.6 L633.2,492.5 L635.6,491.5 L638.0,490.5 L640.4,489.6 L642.7,488.7 L645.1,487.8 L647.5,486.9 L649.8,486.0 L652.2,485.2 L654.6,484.4 L657.0,483.6 L659.3,482.8 L661.7,482.0 L664.1,481.3 L666.4,480.6 L668.8,479.8 L671.2,479.1 L673.6,478.5 L675.9,477.8 L678.3,477.1 L680.7,476.5 L683.0,475.9 L685.4,475.3 L687.8,474.7 L690.2,474.1 L692.5,473.5 L694.9,472.9 L697.3,472.4 L699.6,471.9 L702.0,471.3 L704.4,470.8 L706.8,470.3 L709.1,469.8 L711.5,469.3 L713.9,468.8 L716.2,468.3 L718.6,467.9 L721.0,467.4 L723.4,467.0 L725.7,466.5 L728.1,466.1 L730.5,465.7 L732.8,465.3 L735.2,464.9 L737.6,464.5 L740.0,464.1 L742.3,463.7 L744.7,463.3 L747.1,462.9 L749.4,462.6 L751.8,462.2 L754.2,461.9 L756.6,461.5 L758.9,461.2 L761.3,460.8 L763.7,460.5 L766.0,460.2 L768.4,459.9 L770.8,459.6 L773.2,459.3 L775.5,459.0 L777.9,458.7 L780.3,458.4 L782.6,458.1 L785.0,457.8 L787.4,457.6 L789.8,457.3 L792.1,457.0 L794.5,456.8 L796.9,456.5 L799.2,456.3 L801.6,456.0 L804.0,455.8 L806.4,455.5 L808.7,455.3 L811.1,455.1" fill="none" stroke="#2c9a3c" stroke-width="1.3"/>
<path d="M528.9,604.8 L531.3,597.7 L533.6,591.0 L536.0,584.8 L538.4,579.0 L540.8,573.6 L543.1,568.5 L545.5,563.8 L547.9,559.4 L550.2,555.2 L552.6,551.3 L555.0,547.6 L557.4,544.2 L559.7,540.9 L562.1,537.8 L564.5,534.9 L566.8,532.1 L569.2,529.4 L571.6,526.9 L574.0,524.5 L576.3,522.2 L578.7,520.1 L581.1,518.0 L583.4,516.0 L585.8,514.1 L588.2,512.2 L590.6,510.5 L592.9,508.8 L595.3,507.1 L597.7,505.5 L600.0,504.0 L602.4,502.5 L604.8,501.1 L607.2,499.7 L609.5,498.4 L611.9,497.1 L614.3,495.8 L616.6,494.6 L619.0,493.4 L621.4,492.2 L623.8,491.1 L626.1,490.0 L628.5,488.9 L630.9,487.9 L633.2,486.9 L635.6,485.9 L638.0,484.9 L640.4,484.0 L642.7,483.0 L645.1,482.1 L647.5,481.2 L649.8,480.4 L652.2,479.5 L654.6,478.7 L657.0,477.9 L659.3,477.0 L661.7,476.3 L664.1,475.5 L666.4,474.7 L668.8,474.0 L671.2,473.3 L673.6,472.6 L675.9,471.9 L678.3,471.2 L680.7,470.5 L683.0,469.9 L685.4,469.2 L687.8,468.6 L690.2,467.9 L692.5,467.3 L694.9,466.7 L697.3,466.1 L699.6,465.6 L702.0,465.0 L704.4,464.4 L706.8,463.9 L709.1,463.3 L711.5,462.8 L713.9,462.3 L716.2,461.8 L718.6,461.3 L721.0,460.8 L723.4,460.3 L725.7,459.8 L728.1,459.4 L730.5,458.9 L732.8,458.4 L735.2,458.0 L737.6,457.6 L740.0,457.1 L742.3,456.7 L744.7,456.3 L747.1,455.9 L749.4,455.5 L751.8,455.1 L754.2,454.7 L756.6,454.3 L758.9,454.0 L761.3,453.6 L763.7,453.2 L766.0,452.9 L768.4,452.5 L770.8,452.2 L773.2,451.9 L775.5,451.5 L777.9,451.2 L780.3,450.9 L782.6,450.6 L785.0,450.3 L787.4,450.0 L789.8,449.7 L792.1,449.4 L794.5,449.1 L796.9,448.8 L799.2,448.5 L801.6,448.2 L804.0,448.0 L806.4,447.7 L808.7,447.4 L811.1,447.2" fill="none" stroke="#3a34d8" stroke-width="1.3"/>
<path d="M528.9,604.8 L531.3,601.7 L533.6,598.7 L536.0,595.7 L538.4,592.9 L540.8,590.1 L543.1,587.4 L545.5,584.7 L547.9,582.2 L550.2,579.7 L552.6,577.3 L555.0,574.9 L557.4,572.6 L559.7,570.4 L562.1,568.2 L564.5,566.1 L566.8,564.1 L569.2,562.1 L571.6,560.1 L574.0,558.3 L576.3,556.4 L578.7,554.7 L581.1,552.9 L583.4,551.2 L585.8,549.6 L588.2,548.0 L590.6,546.4 L592.9,544.9 L595.3,543.5 L597.7,542.0 L600.0,540.6 L602.4,539.3 L604.8,537.9 L607.2,536.7 L609.5,535.4 L611.9,534.2 L614.3,533.0 L616.6,531.8 L619.0,530.7 L621.4,529.6 L623.8,528.5 L626.1,527.5 L628.5,526.5 L630.9,525.5 L633.2,524.5 L635.6,523.6 L638.0,522.6 L640.4,521.7 L642.7,520.9 L645.1,520.0 L647.5,519.2 L649.8,518.4 L652.2,517.6 L654.6,516.8 L657.0,516.1 L659.3,515.3 L661.7,514.6 L664.1,513.9 L666.4,513.2 L668.8,512.5 L671.2,511.9 L673.6,511.3 L675.9,510.6 L678.3,510.0 L680.7,509.4 L683.0,508.8 L685.4,508.3 L687.8,507.7 L690.2,507.2 L692.5,506.6 L694.9,506.1 L697.3,505.6 L699.6,505.1 L702.0,504.6 L704.4,504.1 L706.8,503.7 L709.1,503.2 L711.5,502.8 L713.9,502.3 L716.2,501.9 L718.6,501.5 L721.0,501.1 L723.4,500.7 L725.7,500.3 L728.1,499.9 L730.5,499.5 L732.8,499.1 L735.2,498.7 L737.6,498.4 L740.0,498.0 L742.3,497.7 L744.7,497.3 L747.1,497.0 L749.4,496.7 L751.8,496.3 L754.2,496.0 L756.6,495.7 L758.9,495.4 L761.3,495.1 L763.7,494.8 L766.0,494.5 L768.4,494.2 L770.8,493.9 L773.2,493.6 L775.5,493.4 L777.9,493.1 L780.3,492.8 L782.6,492.5 L785.0,492.3 L787.4,492.0 L789.8,491.8 L792.1,491.5 L794.5,491.3 L796.9,491.0 L799.2,490.8 L801.6,490.5 L804.0,490.3 L806.4,490.1 L808.7,489.8 L811.1,489.6" fill="none" stroke="#8c8278" stroke-width="1.3"/>
<path d="M528.9,604.8 L531.3,601.6 L533.6,598.5 L536.0,595.5 L538.4,592.6 L540.8,589.7 L543.1,587.0 L545.5,584.3 L547.9,581.7 L550.2,579.1 L552.6,576.7 L555.0,574.3 L557.4,571.9 L559.7,569.7 L562.1,567.5 L564.5,565.3 L566.8,563.3 L569.2,561.2 L571.6,559.3 L574.0,557.3 L576.3,555.5 L578.7,553.7 L581.1,551.9 L583.4,550.2 L585.8,548.5 L588.2,546.9 L590.6,545.3 L592.9,543.8 L595.3,542.2 L597.7,540.8 L600.0,539.4 L602.4,538.0 L604.8,536.6 L607.2,535.3 L609.5,534.0 L611.9,532.8 L614.3,531.5 L616.6,530.4 L619.0,529.2 L621.4,528.1 L623.8,527.0 L626.1,525.9 L628.5,524.8 L630.9,523.8 L633.2,522.8 L635.6,521.8 L638.0,520.9 L640.4,520.0 L642.7,519.0 L645.1,518.2 L647.5,517.3 L649.8,516.4 L652.2,515.6 L654.6,514.8 L657.0,514.0 L659.3,513.2 L661.7,512.5 L664.1,511.7 L666.4,511.0 L668.8,510.3 L671.2,509.6 L673.6,508.9 L675.9,508.3 L678.3,507.6 L680.7,507.0 L683.0,506.4 L685.4,505.7 L687.8,505.1 L690.2,504.6 L692.5,504.0 L694.9,503.4 L697.3,502.9 L699.6,502.3 L702.0,501.8 L704.4,501.2 L706.8,500.7 L709.1,500.2 L711.5,499.7 L713.9,499.2 L716.2,498.7 L718.6,498.3 L721.0,497.8 L723.4,497.3 L725.7,496.9 L728.1,496.4 L730.5,496.0 L732.8,495.6 L735.2,495.1 L737.6,494.7 L740.0,494.3 L742.3,493.9 L744.7,493.5 L747.1,493.1 L749.4,492.7 L751.8,492.3 L754.2,492.0 L756.6,491.6 L758.9,491.2 L761.3,490.8 L763.7,490.5 L766.0,490.1 L768.4,489.8 L770.8,489.4 L773.2,489.1 L775.5,488.7 L777.9,488.4 L780.3,488.1 L782.6,487.7 L785.0,487.4 L787.4,487.1 L789.8,486.8 L792.1,486.4 L794.5,486.1 L796.9,485.8 L799.2,485.5 L801.6,485.2 L804.0,484.9 L806.4,484.6 L808.7,484.3 L811.1,484.0" fill="none" stroke="#f6c85a" stroke-width="1.3"/>
<path d="M528.9,604.8 L531.3,604.8 L533.6,604.8 L536.0,602.9 L538.4,600.8 L540.8,598.8 L543.1,596.8 L545.5,594.8 L547.9,592.9 L550.2,591.0 L552.6,589.2 L555.0,587.5 L557.4,585.7 L559.7,584.1 L562.1,582.4 L564.5,580.8 L566.8,579.2 L569.2,577.7 L571.6,576.2 L574.0,574.8 L576.3,573.4 L578.7,572.0 L581.1,570.6 L583.4,569.3 L585.8,568.0 L588.2,566.8 L590.6,565.6 L592.9,564.4 L595.3,563.2 L597.7,562.1 L600.0,561.0 L602.4,559.9 L604.8,558.8 L607.2,557.8 L609.5,556.8 L611.9,555.8 L614.3,554.8 L616.6,553.9 L619.0,553.0 L621.4,552.1 L623.8,551.2 L626.1,550.4 L628.5,549.6 L630.9,548.8 L633.2,548.0 L635.6,547.2 L638.0,546.5 L640.4,545.7 L642.7,545.0 L645.1,544.3 L647.5,543.7 L649.8,543.0 L652.2,542.3 L654.6,541.7 L657.0,541.1 L659.3,540.5 L661.7,539.9 L664.1,539.3 L666.4,538.8 L668.8,538.2 L671.2,537.7 L673.6,537.2 L675.9,536.7 L678.3,536.2 L680.7,535.7 L683.0,535.2 L685.4,534.8 L687.8,534.3 L690.2,533.9 L692.5,533.5 L694.9,533.1 L697.3,532.7 L699.6,532.3 L702.0,531.9 L704.4,531.5 L706.8,531.1 L709.1,530.8 L711.5,530.4 L713.9,530.1 L716.2,529.8 L718.6,529.4 L721.0,529.1 L723.4,528.8 L725.7,528.5 L728.1,528.2 L730.5,527.9 L732.8,527.6 L735.2,527.4 L737.6,527.1 L740.0,526.8 L742.3,526.6 L744.7,526.3 L747.1,526.1 L749.4,525.9 L751.8,525.6 L754.2,525.4 L756.6,525.2 L758.9,525.0 L761.3,524.8 L763.7,524.6 L766.0,524.4 L768.4,524.2 L770.8,524.0 L773.2,523.8 L775.5,523.6 L777.9,523.4 L780.3,523.3 L782.6,523.1 L785.0,522.9 L787.4,522.8 L789.8,522.6 L792.1,522.5 L794.5,522.3 L796.9,522.2 L799.2,522.0 L801.6,521.9 L804.0,521.8 L806.4,521.6 L808.7,521.5 L811.1,521.4" fill="none" stroke="#c274d4" stroke-width="1.3"/>
<path d="M528.9,604.8 L531.3,604.8 L533.6,604.6 L536.0,604.1 L538.4,603.4 L540.8,602.7 L543.1,601.8 L545.5,600.9 L547.9,599.9 L550.2,598.9 L552.6,597.9 L555.0,596.8 L557.4,595.8 L559.7,594.7 L562.1,593.7 L564.5,592.7 L566.8,591.7 L569.2,590.6 L571.6,589.7 L574.0,588.7 L576.3,587.7 L578.7,586.8 L581.1,585.8 L583.4,584.9 L585.8,584.0 L588.2,583.1 L590.6,582.3 L592.9,581.4 L595.3,580.6 L597.7,579.7 L600.0,578.9 L602.4,578.1 L604.8,577.4 L607.2,576.6 L609.5,575.8 L611.9,575.1 L614.3,574.4 L616.6,573.7 L619.0,573.0 L621.4,572.3 L623.8,571.6 L626.1,570.9 L628.5,570.3 L630.9,569.6 L633.2,569.0 L635.6,568.4 L638.0,567.8 L640.4,567.2 L642.7,566.6 L645.1,566.0 L647.5,565.5 L649.8,564.9 L652.2,564.4 L654.6,563.9 L657.0,563.3 L659.3,562.8 L661.7,562.3 L664.1,561.8 L666.4,561.4 L668.8,560.9 L671.2,560.4 L673.6,560.0 L675.9,559.5 L678.3,559.1 L680.7,558.6 L683.0,558.2 L685.4,557.8 L687.8,557.4 L690.2,557.0 L692.5,556.6 L694.9,556.2 L697.3,555.8 L699.6,555.4 L702.0,555.1 L704.4,554.7 L706.8,554.3 L709.1,554.0 L711.5,553.7 L713.9,553.3 L716.2,553.0 L718.6,552.7 L721.0,552.4 L723.4,552.0 L725.7,551.7 L728.1,551.4 L730.5,551.1 L732.8,550.9 L735.2,550.6 L737.6,550.3 L740.0,550.0 L742.3,549.7 L744.7,549.5 L747.1,549.2 L749.4,549.0 L751.8,548.7 L754.2,548.5 L756.6,548.2 L758.9,548.0 L761.3,547.8 L763.7,547.5 L766.0,547.3 L768.4,547.1 L770.8,546.9 L773.2,546.7 L775.5,546.5 L777.9,546.3 L780.3,546.1 L782.6,545.9 L785.0,545.7 L787.4,545.5 L789.8,545.3 L792.1,545.1 L794.5,544.9 L796.9,544.8 L799.2,544.6 L801.6,544.4 L804.0,544.2 L806.4,544.1 L808.7,543.9 L811.1,543.8" fill="none" stroke="#222222" stroke-width="1.3"/>
<path d="M528.9,604.8 L531.3,604.8 L533.6,604.7 L536.0,604.2 L538.4,603.5 L540.8,602.7 L543.1,601.7 L545.5,600.7 L547.9,599.7 L550.2,598.6 L552.6,597.6 L555.0,596.5 L557.4,595.4 L559.7,594.3 L562.1,593.3 L564.5,592.2 L566.8,591.2 L569.2,590.1 L571.6,589.1 L574.0,588.1 L576.3,587.1 L578.7,586.2 L581.1,585.2 L583.4,584.2 L585.8,583.3 L588.2,582.4 L590.6,581.5 L592.9,580.6 L595.3,579.7 L597.7,578.9 L600.0,578.0 L602.4,577.2 L604.8,576.3 L607.2,575.5 L609.5,574.7 L611.9,573.9 L614.3,573.2 L616.6,572.4 L619.0,571.7 L621.4,570.9 L623.8,570.2 L626.1,569.5 L628.5,568.8 L630.9,568.1 L633.2,567.4 L635.6,566.7 L638.0,566.0 L640.4,565.4 L642.7,564.7 L645.1,564.1 L647.5,563.5 L649.8,562.8 L652.2,562.2 L654.6,561.6 L657.0,561.1 L659.3,560.5 L661.7,559.9 L664.1,559.3 L666.4,558.8 L668.8,558.2 L671.2,557.7 L673.6,557.2 L675.9,556.7 L678.3,556.1 L680.7,555.6 L683.0,555.1 L685.4,554.6 L687.8,554.2 L690.2,553.7 L692.5,553.2 L694.9,552.8 L697.3,552.3 L699.6,551.9 L702.0,551.4 L704.4,551.0 L706.8,550.6 L709.1,550.1 L711.5,549.7 L713.9,549.3 L716.2,548.9 L718.6,548.5 L721.0,548.1 L723.4,547.7 L725.7,547.4 L728.1,547.0 L730.5,546.6 L732.8,546.3 L735.2,545.9 L737.6,545.6 L740.0,545.2 L742.3,544.9 L744.7,544.5 L747.1,544.2 L749.4,543.9 L751.8,543.6 L754.2,543.3 L756.6,542.9 L758.9,542.6 L761.3,542.3 L763.7,542.0 L766.0,541.7 L768.4,541.5 L770.8,541.2 L773.2,540.9 L775.5,540.6 L777.9,540.4 L780.3,540.1 L782.6,539.8 L785.0,539.6 L787.4,539.3 L789.8,539.1 L792.1,538.8 L794.5,538.6 L796.9,538.3 L799.2,538.1 L801.6,537.9 L804.0,537.6 L806.4,537.4 L808.7,537.2 L811.1,537.0" fill="none" stroke="#e23434" stroke-width="1.3"/>
<path d="M528.9,604.8 L531.3,604.8 L533.6,604.8 L536.0,604.6 L538.4,604.1 L540.8,603.6 L543.1,603.0 L545.5,602.5 L547.9,602.0 L550.2,601.4 L552.6,600.9 L555.0,600.4 L557.4,600.0 L559.7,599.5 L562.1,599.0 L564.5,598.6 L566.8,598.1 L569.2,597.7 L571.6,597.3 L574.0,596.9 L576.3,596.5 L578.7,596.1 L581.1,595.7 L583.4,595.3 L585.8,594.9 L588.2,594.6 L590.6,594.2 L592.9,593.8 L595.3,593.5 L597.7,593.2 L600.0,592.8 L602.4,592.5 L604.8,592.2 L607.2,591.9 L609.5,591.6 L611.9,591.3 L614.3,591.0 L616.6,590.7 L619.0,590.5 L621.4,590.2 L623.8,589.9 L626.1,589.7 L628.5,589.4 L630.9,589.2 L633.2,588.9 L635.6,588.7 L638.0,588.5 L640.4,588.2 L642.7,588.0 L645.1,587.8 L647.5,587.6 L649.8,587.4 L652.2,587.2 L654.6,587.0 L657.0,586.8 L659.3,586.6 L661.7,586.4 L664.1,586.2 L666.4,586.0 L668.8,585.9 L671.2,585.7 L673.6,585.5 L675.9,585.4 L678.3,585.2 L680.7,585.1 L683.0,584.9 L685.4,584.8 L687.8,584.6 L690.2,584.5 L692.5,584.3 L694.9,584.2 L697.3,584.0 L699.6,583.9 L702.0,583.8 L704.4,583.7 L706.8,583.5 L709.1,583.4 L711.5,583.3 L713.9,583.2 L716.2,583.1 L718.6,583.0 L721.0,582.8 L723.4,582.7 L725.7,582.6 L728.1,582.5 L730.5,582.4 L732.8,582.3 L735.2,582.2 L737.6,582.2 L740.0,582.1 L742.3,582.0 L744.7,581.9 L747.1,581.8 L749.4,581.7 L751.8,581.6 L754.2,581.6 L756.6,581.5 L758.9,581.4 L761.3,581.3 L763.7,581.2 L766.0,581.2 L768.4,581.1 L770.8,581.0 L773.2,581.0 L775.5,580.9 L777.9,580.8 L780.3,580.8 L782.6,580.7 L785.0,580.7 L787.4,580.6 L789.8,580.5 L792.1,580.5 L794.5,580.4 L796.9,580.4 L799.2,580.3 L801.6,580.3 L804.0,580.2 L806.4,580.2 L808.7,580.1 L811.1,580.1" fill="none" stroke="#36b0e2" stroke-width="1.3"/>
<path d="M528.9,423.0H1127.4V627.7" fill="none" stroke="#4a4a4a" stroke-width="1.2"/>
<path d="M528.5,422.4V628.5H1128.0" fill="none" stroke="#555" stroke-width="1.9"/>
<path d="M525.4,627.6h3.5M525.4,604.8h3.5M525.4,582.0h3.5M525.4,559.2h3.5M525.4,536.3h3.5M525.4,513.5h3.5M525.4,490.7h3.5M525.4,467.8h3.5M525.4,445.0h3.5M525.4,422.2h3.5M528.9,627.7v3.5M611.9,627.7v3.5M694.9,627.7v3.5M777.9,627.7v3.5M860.9,627.7v3.5M943.9,627.7v3.5M1026.9,627.7v3.5M1109.9,627.7v3.5" stroke="#555" stroke-width="1"/>
<g class="ax" text-anchor="end">
<text x="523.3" y="630.2">15</text>
<text x="523.3" y="607.4">20</text>
<text x="523.3" y="584.6">25</text>
<text x="523.3" y="561.8">30</text>
<text x="523.3" y="538.9">35</text>
<text x="523.3" y="516.1">40</text>
<text x="523.3" y="493.3">45</text>
<text x="523.3" y="470.4">50</text>
<text x="523.3" y="447.6">55</text>
<text x="523.3" y="424.8">60</text>
</g><g class="ax" text-anchor="middle">
<text x="529.2" y="640.2">0</text>
<text x="612.2" y="640.2">500</text>
<text x="695.2" y="640.2">1000</text>
<text x="778.2" y="640.2">1500</text>
<text x="861.2" y="640.2">2000</text>
<text x="944.2" y="640.2">2500</text>
<text x="1027.2" y="640.2">3000</text>
<text x="1110.2" y="640.2">3500</text>
</g>
<text x="828.6" y="657.3" text-anchor="middle" class="axt" textLength="40.4" lengthAdjust="spacingAndGlyphs">Time (s)</text>
<text transform="translate(506.4,525.2) rotate(-90)" text-anchor="middle" class="axt" textLength="85.6" lengthAdjust="spacingAndGlyphs">Temperature (°C)</text>
</svg>
<!-- thermal network -->
<div class="abs net" style="left:793px;top:357.5px;width:602.6px;height:251.2px">
<svg width="602.6" height="251.2" viewBox="793 357.5 602.6 251.2" style="display:block">
<rect x="881.3" y="395.3" width="422.6" height="27" fill="#00688c"/>
<rect x="828" y="422" width="529" height="13.2" fill="#004f6c"/>
<rect x="828" y="422" width="7.4" height="186.8" fill="#06648a"/>
<rect x="1349.8" y="422" width="7.2" height="186.8" fill="#06648a"/>
<path d="M835.6,608V435.5H1349.6V608" fill="none" stroke="#b9a35a" stroke-width="0.8"/>
<rect x="971.1" y="435.2" width="243.8" height="24" fill="#6f6f6f"/>
<rect x="916.7" y="459" width="352" height="29.6" fill="#f20505"/>
<rect x="930" y="459" width="325.2" height="29.6" fill="#8f0202"/>
<rect x="971.1" y="488.4" width="243.8" height="14" fill="#757575"/>
<rect x="971.1" y="491.5" width="243.8" height="7.7" fill="#fcc644"/>
<rect x="930" y="502.2" width="325.3" height="37.3" fill="#c616ce"/>
<rect x="943.8" y="502.2" width="297.7" height="37.3" fill="#6c0f7e"/>
<rect x="971.1" y="539.5" width="243.8" height="32.2" fill="#6a6a6a"/>
<rect x="971.1" y="571.6" width="243.8" height="37.2" fill="#a9a9a9"/>
<rect x="835.6" y="585.5" width="135.5" height="23.3" fill="#5f5f5f"/>
<rect x="1214.9" y="585.5" width="134.9" height="23.3" fill="#5f5f5f"/>
<rect x="836.0" y="545" width="33" height="40.4" fill="#2c2c2c"/>
<path d="M836.0,545l33,40.4M869.0,545l-33,40.4" stroke="#8c8c8c" stroke-width="0.7"/>
<rect x="1316.4" y="545" width="33" height="40.4" fill="#2c2c2c"/>
<path d="M1316.4,545l33,40.4M1349.4,545l-33,40.4" stroke="#8c8c8c" stroke-width="0.7"/>
<path d="M818,599.3H830M1360,599.3H1372" stroke="#ccc" stroke-width="0.6" stroke-dasharray="1.5 1"/>
<g fill="none" stroke-linecap="round">
<path d="M1092.7,437.4L971.1,489.1M1092.7,437.4L965.7,496.5M1092.7,437.4L971.1,502.7M1092.7,437.4L971.1,508.4M1092.7,437.4L1214.3,489.1M1092.7,437.4L1219.7,496.5M1092.7,437.4L1214.3,502.7M1092.7,437.4L1214.3,508.4" stroke="#e8861e" stroke-width="0.9" opacity="0.85"/>
<path d="M840.3,517.2L923.8,474.5M840.3,517.2L965.7,496.5M840.3,517.2L936.3,521.7M803.4,517.6L840.3,517.2M1092.7,437.4L971.1,447.9M1092.7,437.4L971.1,476.6M1092.7,437.4L923.8,474.5M1345.1,517.2L1261.6,474.5M1345.1,517.2L1219.7,496.5M1345.1,517.2L1249.1,521.7M1382.0,517.6L1345.1,517.2M1092.7,437.4L1214.3,447.9M1092.7,437.4L1214.3,476.6M1092.7,437.4L1261.6,474.5" stroke="#e03232" stroke-width="1.25"/>
<path d="M971.1,502.7L1092.7,515.5M971.1,508.4L1092.7,521.7M971.1,515.5L1092.7,502.7M971.1,521.7L1092.7,508.4M971.1,529.0L1092.7,515.5M971.1,502.7L1092.7,529.0M971.1,496.5L1092.7,508.4M1214.3,502.7L1092.7,515.5M1214.3,508.4L1092.7,521.7M1214.3,515.5L1092.7,502.7M1214.3,521.7L1092.7,508.4M1214.3,529.0L1092.7,515.5M1214.3,502.7L1092.7,529.0M1214.3,496.5L1092.7,508.4" stroke="#e0a040" stroke-width="0.9" opacity="0.75"/>
<path d="M971.1,447.9H1214.3000000000002M971.1,476.6H1214.3000000000002M971.1,489.1H1214.3000000000002M971.1,502.7H1214.3000000000002M971.1,508.4H1214.3000000000002M971.1,515.5H1214.3000000000002M971.1,521.7H1214.3000000000002M971.1,529.0H1214.3000000000002M971.1,543.4H1214.3000000000002M971.1,563.1H1214.3000000000002M971.1,599.1H1214.3000000000002M850.7,598.8H1334.7M1092.7,423V600" stroke="#e0a030" stroke-width="1.3" opacity="0.9"/>
<path d="M876.2,532.0L971.1,447.9M876.2,532.0L971.1,476.6M876.2,532.0L971.1,489.1M876.2,532.0L971.1,502.7M876.2,532.0L971.1,508.4M876.2,532.0L971.1,515.5M876.2,532.0L971.1,521.7M876.2,532.0L971.1,529.0M876.2,532.0L971.1,543.4M876.2,532.0L971.1,563.1M876.2,532.0L971.1,579.1M876.2,532.0L923.8,474.5M876.2,532.0L911.3,599.3M876.2,532.0L835.5,517.6M876.2,532.0L936.3,521.7M923.8,474.5L971.1,476.6M936.3,521.7L971.1,521.7M852.1,555.6L832.8,553.9M852.1,555.6L852.1,598.5M971.1,579.1L1092.7,599.3M971.1,563.1L1030.9,562.9M835.1,436.7L848.9,436.7M965.7,496.5L971.1,489.1M1309.2,532.0L1214.3,447.9M1309.2,532.0L1214.3,476.6M1309.2,532.0L1214.3,489.1M1309.2,532.0L1214.3,502.7M1309.2,532.0L1214.3,508.4M1309.2,532.0L1214.3,515.5M1309.2,532.0L1214.3,521.7M1309.2,532.0L1214.3,529.0M1309.2,532.0L1214.3,543.4M1309.2,532.0L1214.3,563.1M1309.2,532.0L1214.3,579.1M1309.2,532.0L1261.6,474.5M1309.2,532.0L1274.1,599.3M1309.2,532.0L1349.9,517.6M1309.2,532.0L1249.1,521.7M1261.6,474.5L1214.3,476.6M1249.1,521.7L1214.3,521.7M1333.3,555.6L1352.6,553.9M1333.3,555.6L1333.3,598.5M1214.3,579.1L1092.7,599.3M1214.3,563.1L1154.5,562.9M1350.3,436.7L1336.5,436.7M1219.7,496.5L1214.3,489.1" stroke="#f2c24e" stroke-width="1.15"/>
<path d="M1093.2,379V423" stroke="#d9c36a" stroke-width="0.8"/>
<path d="M1091.8,379V402" stroke="#e03232" stroke-width="0.9"/>
</g>
<rect x="-3.5" y="-1.1" width="7" height="2.2" fill="#e03232" transform="translate(879.0,492.5) rotate(-26)"/><rect x="-3.5" y="-1.1" width="7" height="2.2" fill="#e03232" transform="translate(1306.4,492.5) rotate(26)"/><rect x="-3.5" y="-1.1" width="7" height="2.2" fill="#e03232" transform="translate(879.0,496.3) rotate(-26)"/><rect x="-3.5" y="-1.1" width="7" height="2.2" fill="#e03232" transform="translate(1306.4,496.3) rotate(26)"/><rect x="-3.5" y="-1.1" width="7" height="2.2" fill="#e03232" transform="translate(884.5,513.5) rotate(0)"/><rect x="-3.5" y="-1.1" width="7" height="2.2" fill="#e03232" transform="translate(1300.9,513.5) rotate(0)"/><rect x="-3.5" y="-1.1" width="7" height="2.2" fill="#e03232" transform="translate(884.5,521.5) rotate(0)"/><rect x="-3.5" y="-1.1" width="7" height="2.2" fill="#e03232" transform="translate(1300.9,521.5) rotate(0)"/><rect x="-3.5" y="-1.1" width="7" height="2.2" fill="#e03232" transform="translate(900.0,502.0) rotate(35)"/><rect x="-3.5" y="-1.1" width="7" height="2.2" fill="#e03232" transform="translate(1285.4,502.0) rotate(-35)"/><rect x="-3.5" y="-1.1" width="7" height="2.2" fill="#e03232" transform="translate(900.0,508.0) rotate(35)"/><rect x="-3.5" y="-1.1" width="7" height="2.2" fill="#e03232" transform="translate(1285.4,508.0) rotate(-35)"/><rect x="-3.5" y="-1.1" width="7" height="2.2" fill="#f2c24e" transform="translate(853.0,525.0) rotate(22)"/><rect x="-3.5" y="-1.1" width="7" height="2.2" fill="#f2c24e" transform="translate(1332.4,525.0) rotate(-22)"/><rect x="-3.5" y="-1.1" width="7" height="2.2" fill="#f2c24e" transform="translate(897.0,546.5) rotate(20)"/><rect x="-3.5" y="-1.1" width="7" height="2.2" fill="#f2c24e" transform="translate(1288.4,546.5) rotate(-20)"/><rect x="-3.5" y="-1.1" width="7" height="2.2" fill="#f2c24e" transform="translate(925.0,541.0) rotate(10)"/><rect x="-3.5" y="-1.1" width="7" height="2.2" fill="#f2c24e" transform="translate(1260.4,541.0) rotate(-10)"/><rect x="-3.5" y="-1.1" width="7" height="2.2" fill="#f2c24e" transform="translate(924.0,553.0) rotate(25)"/><rect x="-3.5" y="-1.1" width="7" height="2.2" fill="#f2c24e" transform="translate(1261.4,553.0) rotate(-25)"/><rect x="-3.5" y="-1.1" width="7" height="2.2" fill="#f2c24e" transform="translate(896.0,564.0) rotate(62)"/><rect x="-3.5" y="-1.1" width="7" height="2.2" fill="#f2c24e" transform="translate(1289.4,564.0) rotate(-62)"/><rect x="-3.5" y="-1.1" width="7" height="2.2" fill="#f2c24e" transform="translate(905.0,520.0) rotate(-8)"/><rect x="-3.5" y="-1.1" width="7" height="2.2" fill="#f2c24e" transform="translate(1280.4,520.0) rotate(8)"/><rect x="-3.5" y="-1.1" width="7" height="2.2" fill="#f2c24e" transform="translate(923.0,489.5) rotate(-40)"/><rect x="-3.5" y="-1.1" width="7" height="2.2" fill="#f2c24e" transform="translate(1262.4,489.5) rotate(40)"/><rect x="-3.5" y="-1.1" width="7" height="2.2" fill="#e03232" transform="translate(815.9,513.8) rotate(0)"/><rect x="-3.5" y="-1.1" width="7" height="2.2" fill="#e03232" transform="translate(1369.5,513.8) rotate(0)"/><rect x="-3.5" y="-1.1" width="7" height="2.2" fill="#e03232" transform="translate(815.9,521.0) rotate(0)"/><rect x="-3.5" y="-1.1" width="7" height="2.2" fill="#e03232" transform="translate(1369.5,521.0) rotate(0)"/><rect x="-3.5" y="-1.1" width="7" height="2.2" fill="#f2c24e" transform="translate(815.9,517.4) rotate(0)"/><rect x="-3.5" y="-1.1" width="7" height="2.2" fill="#f2c24e" transform="translate(1369.5,517.4) rotate(0)"/><rect x="-3.5" y="-1.1" width="7" height="2.2" fill="#f2c24e" transform="translate(990.0,484.5) rotate(-25)"/><rect x="-3.5" y="-1.1" width="7" height="2.2" fill="#f2c24e" transform="translate(1195.4,484.5) rotate(25)"/><rect x="-3.5" y="-1.1" width="7" height="2.2" fill="#e03232" transform="translate(1008.0,458.0) rotate(-20)"/><rect x="-3.5" y="-1.1" width="7" height="2.2" fill="#e03232" transform="translate(1177.4,458.0) rotate(20)"/><rect x="-3.5" y="-1.1" width="7" height="2.2" fill="#e03232" transform="translate(1020.0,470.0) rotate(-25)"/><rect x="-3.5" y="-1.1" width="7" height="2.2" fill="#e03232" transform="translate(1165.4,470.0) rotate(25)"/><rect x="-3.5" y="-1.1" width="7" height="2.2" fill="#e03232" transform="translate(1010.0,488.0) rotate(-25)"/><rect x="-3.5" y="-1.1" width="7" height="2.2" fill="#e03232" transform="translate(1175.4,488.0) rotate(25)"/><rect x="920.3" y="505.0" width="7" height="2.6" fill="#b99a28"/><rect x="1258.1" y="505.0" width="7" height="2.6" fill="#8e7a10"/><rect x="920.3" y="509.2" width="7" height="2.6" fill="#b99a28"/><rect x="1258.1" y="509.2" width="7" height="2.6" fill="#8e7a10"/><rect x="920.3" y="513.4" width="7" height="2.6" fill="#b99a28"/><rect x="1258.1" y="513.4" width="7" height="2.6" fill="#8e7a10"/><rect x="920.3" y="517.6" width="7" height="2.6" fill="#b99a28"/><rect x="1258.1" y="517.6" width="7" height="2.6" fill="#8e7a10"/><rect x="920.3" y="521.8" width="7" height="2.6" fill="#b99a28"/><rect x="1258.1" y="521.8" width="7" height="2.6" fill="#8e7a10"/><rect x="920.3" y="526.0" width="7" height="2.6" fill="#b99a28"/><rect x="1258.1" y="526.0" width="7" height="2.6" fill="#8e7a10"/><rect x="920.3" y="530.2" width="7" height="2.6" fill="#b99a28"/><rect x="1258.1" y="530.2" width="7" height="2.6" fill="#8e7a10"/><rect x="920.3" y="534.4" width="7" height="2.6" fill="#b99a28"/><rect x="1258.1" y="534.4" width="7" height="2.6" fill="#8e7a10"/><rect x="920.3" y="538.6" width="7" height="2.6" fill="#b99a28"/><rect x="1258.1" y="538.6" width="7" height="2.6" fill="#8e7a10"/><rect x="-4.0" y="-0.8" width="8" height="1.6" fill="#e03232" transform="translate(1089.5,397.5) rotate(90)"/><rect x="-4.0" y="-1.5" width="8" height="3" fill="#f0d878" transform="translate(1094.9,397.5) rotate(90)"/>
<path d="M1217.7,485.1 L1226.2,469.4 L1232.2,473.2 L1241.3,462.1 L1233.1,479.7 L1228.0,475.2Z" fill="#ffe812" stroke="#f2cc00" stroke-width="0.4"/>
<path d="M1218.3,535.2 L1228.7,516.0 L1236.0,520.7 L1247.1,507.1 L1237.1,528.6 L1230.9,523.1Z" fill="#ffe812" stroke="#f2cc00" stroke-width="0.4"/>
<path d="M1033.8,444.4A3.9,3.9 0 1 0 1033.8,449.6" fill="none" stroke="#f3d35c" stroke-width="1.9"/><path d="M1157.4,444.4A3.9,3.9 0 1 0 1157.4,449.6" fill="none" stroke="#f3d35c" stroke-width="1.9"/><path d="M1033.8,473.1A3.9,3.9 0 1 0 1033.8,478.3" fill="none" stroke="#f3d35c" stroke-width="1.9"/><path d="M1157.4,473.1A3.9,3.9 0 1 0 1157.4,478.3" fill="none" stroke="#f3d35c" stroke-width="1.9"/><path d="M1033.8,486.5A3.9,3.9 0 1 0 1033.8,491.7" fill="none" stroke="#f3d35c" stroke-width="1.9"/><path d="M1157.4,486.5A3.9,3.9 0 1 0 1157.4,491.7" fill="none" stroke="#f3d35c" stroke-width="1.9"/><path d="M1033.8,540.8A3.9,3.9 0 1 0 1033.8,546.0" fill="none" stroke="#f3d35c" stroke-width="1.9"/><path d="M1157.4,540.8A3.9,3.9 0 1 0 1157.4,546.0" fill="none" stroke="#f3d35c" stroke-width="1.9"/><path d="M1033.8,560.3A3.9,3.9 0 1 0 1033.8,565.5" fill="none" stroke="#f3d35c" stroke-width="1.9"/><path d="M1157.4,560.3A3.9,3.9 0 1 0 1157.4,565.5" fill="none" stroke="#f3d35c" stroke-width="1.9"/><path d="M1033.8,584.7A3.9,3.9 0 1 0 1033.8,589.9" fill="none" stroke="#f3d35c" stroke-width="1.9"/><path d="M1157.4,584.7A3.9,3.9 0 1 0 1157.4,589.9" fill="none" stroke="#f3d35c" stroke-width="1.9"/><path d="M1033.8,595.7A3.9,3.9 0 1 0 1033.8,600.9" fill="none" stroke="#f3d35c" stroke-width="1.9"/><path d="M1157.4,595.7A3.9,3.9 0 1 0 1157.4,600.9" fill="none" stroke="#f3d35c" stroke-width="1.9"/><path d="M1033.4,494.0A3.3,3.3 0 1 0 1033.4,498.4" fill="none" stroke="#f3d35c" stroke-width="1.9"/><path d="M1157.0,494.0A3.3,3.3 0 1 0 1157.0,498.4" fill="none" stroke="#f3d35c" stroke-width="1.9"/><path d="M1033.4,500.4A3.3,3.3 0 1 0 1033.4,504.8" fill="none" stroke="#f3d35c" stroke-width="1.9"/><path d="M1157.0,500.4A3.3,3.3 0 1 0 1157.0,504.8" fill="none" stroke="#f3d35c" stroke-width="1.9"/><path d="M1033.4,506.2A3.3,3.3 0 1 0 1033.4,510.6" fill="none" stroke="#f3d35c" stroke-width="1.9"/><path d="M1157.0,506.2A3.3,3.3 0 1 0 1157.0,510.6" fill="none" stroke="#f3d35c" stroke-width="1.9"/><path d="M1033.4,513.3A3.3,3.3 0 1 0 1033.4,517.7" fill="none" stroke="#f3d35c" stroke-width="1.9"/><path d="M1157.0,513.3A3.3,3.3 0 1 0 1157.0,517.7" fill="none" stroke="#f3d35c" stroke-width="1.9"/><path d="M1033.4,519.5A3.3,3.3 0 1 0 1033.4,523.9" fill="none" stroke="#f3d35c" stroke-width="1.9"/><path d="M1157.0,519.5A3.3,3.3 0 1 0 1157.0,523.9" fill="none" stroke="#f3d35c" stroke-width="1.9"/><path d="M1033.4,526.8A3.3,3.3 0 1 0 1033.4,531.2" fill="none" stroke="#f3d35c" stroke-width="1.9"/><path d="M1157.0,526.8A3.3,3.3 0 1 0 1157.0,531.2" fill="none" stroke="#f3d35c" stroke-width="1.9"/><path d="M1009.5,466.5A3.4,3.4 0 1 0 1009.5,471.1" fill="none" stroke="#f3d35c" stroke-width="1.9"/><path d="M1180.9,466.5A3.4,3.4 0 1 0 1180.9,471.1" fill="none" stroke="#f3d35c" stroke-width="1.9"/><path d="M1009.5,472.3A3.4,3.4 0 1 0 1009.5,476.9" fill="none" stroke="#f3d35c" stroke-width="1.9"/><path d="M1180.9,472.3A3.4,3.4 0 1 0 1180.9,476.9" fill="none" stroke="#f3d35c" stroke-width="1.9"/><path d="M1017.1,516.3A3.4,3.4 0 1 0 1017.1,520.9" fill="none" stroke="#f3d35c" stroke-width="1.9"/><path d="M1173.3,516.3A3.4,3.4 0 1 0 1173.3,520.9" fill="none" stroke="#f3d35c" stroke-width="1.9"/><path d="M1017.1,522.3A3.4,3.4 0 1 0 1017.1,526.9" fill="none" stroke="#f3d35c" stroke-width="1.9"/><path d="M1173.3,522.3A3.4,3.4 0 1 0 1173.3,526.9" fill="none" stroke="#f3d35c" stroke-width="1.9"/><path d="M973.2,432.9A3.8,3.8 0 1 0 973.2,437.9" fill="none" stroke="#f3d35c" stroke-width="1.9"/><path d="M1217.8,432.9A3.8,3.8 0 1 0 1217.8,437.9" fill="none" stroke="#f3d35c" stroke-width="1.9"/><path d="M853.7,595.9A3.8,3.8 0 1 0 853.7,600.9" fill="none" stroke="#f3d35c" stroke-width="1.9"/><path d="M1337.9,595.9A3.8,3.8 0 1 0 1337.9,600.9" fill="none" stroke="#f3d35c" stroke-width="1.9"/><path d="M942.7,596.3A3.8,3.8 0 1 0 942.7,601.3" fill="none" stroke="#f3d35c" stroke-width="1.9"/><path d="M1248.3,596.3A3.8,3.8 0 1 0 1248.3,601.3" fill="none" stroke="#f3d35c" stroke-width="1.9"/><g transform="translate(841.9,435.0) rotate(90)"><path d="M2.7,-2.4A3.6,3.6 0 1 0 2.7,2.4" fill="none" stroke="#f3d35c" stroke-width="1.9"/></g><g transform="translate(1343.5,435.0) rotate(90)"><path d="M2.7,-2.4A3.6,3.6 0 1 0 2.7,2.4" fill="none" stroke="#f3d35c" stroke-width="1.9"/></g><g transform="translate(835.4,476.4) rotate(60)"><path d="M2.7,-2.4A3.6,3.6 0 1 0 2.7,2.4" fill="none" stroke="#f3d35c" stroke-width="1.9"/></g><g transform="translate(1350.0,476.4) rotate(120)"><path d="M2.7,-2.4A3.6,3.6 0 1 0 2.7,2.4" fill="none" stroke="#f3d35c" stroke-width="1.9"/></g><g transform="translate(833.6,553.8) rotate(0)"><path d="M2.7,-2.4A3.6,3.6 0 1 0 2.7,2.4" fill="none" stroke="#f3d35c" stroke-width="1.9"/></g><g transform="translate(1351.8000000000002,553.8) rotate(180)"><path d="M2.7,-2.4A3.6,3.6 0 1 0 2.7,2.4" fill="none" stroke="#f3d35c" stroke-width="1.9"/></g><g transform="translate(852.1,565.3) rotate(90)"><path d="M2.4,-2.1A3.2,3.2 0 1 0 2.4,2.1" fill="none" stroke="#f3d35c" stroke-width="1.9"/></g><g transform="translate(1333.3000000000002,565.3) rotate(90)"><path d="M2.4,-2.1A3.2,3.2 0 1 0 2.4,2.1" fill="none" stroke="#f3d35c" stroke-width="1.9"/></g><g transform="translate(852.1,567.6) rotate(90)"><path d="M1.6,-1.5A2.2,2.2 0 1 0 1.6,1.5" fill="none" stroke="#f3d35c" stroke-width="1.9"/></g><g transform="translate(1333.3000000000002,567.6) rotate(90)"><path d="M1.6,-1.5A2.2,2.2 0 1 0 1.6,1.5" fill="none" stroke="#f3d35c" stroke-width="1.9"/></g><g transform="translate(1092.7,430.4) rotate(-90)"><path d="M2.5,-2.2A3.3,3.3 0 1 0 2.5,2.2" fill="none" stroke="#f3d35c" stroke-width="1.9"/></g><g transform="translate(1092.7,441.6) rotate(-90)"><path d="M2.5,-2.2A3.3,3.3 0 1 0 2.5,2.2" fill="none" stroke="#f3d35c" stroke-width="1.9"/></g><g transform="translate(1092.7,461.5) rotate(90)"><path d="M2.5,-2.2A3.3,3.3 0 1 0 2.5,2.2" fill="none" stroke="#f3d35c" stroke-width="1.9"/></g><g transform="translate(1092.7,467) rotate(90)"><path d="M2.5,-2.2A3.3,3.3 0 1 0 2.5,2.2" fill="none" stroke="#f3d35c" stroke-width="1.9"/></g><g transform="translate(1092.7,587.5) rotate(-60)"><path d="M2.4,-2.1A3.2,3.2 0 1 0 2.4,2.1" fill="none" stroke="#f3d35c" stroke-width="1.9"/></g>
<rect x="1089.2" y="480" width="7.4" height="19.5" fill="#6e0c0c" opacity="0.85"/><path d="M1091,483l3,4M1094.4,489l-3,4" stroke="#e8b030" stroke-width="1"/>
<circle cx="977.3000000000001" cy="447.9" r="1.2" fill="#f6c030"/><circle cx="1208.1" cy="447.9" r="1.2" fill="#f6c030"/><circle cx="977.3000000000001" cy="476.6" r="1.2" fill="#f6c030"/><circle cx="1208.1" cy="476.6" r="1.2" fill="#f6c030"/><circle cx="977.3000000000001" cy="489.1" r="1.2" fill="#f6c030"/><circle cx="1208.1" cy="489.1" r="1.2" fill="#f6c030"/><circle cx="977.3000000000001" cy="502.7" r="1.2" fill="#f6c030"/><circle cx="1208.1" cy="502.7" r="1.2" fill="#f6c030"/><circle cx="977.3000000000001" cy="508.4" r="1.2" fill="#f6c030"/><circle cx="1208.1" cy="508.4" r="1.2" fill="#f6c030"/><circle cx="977.3000000000001" cy="515.5" r="1.2" fill="#f6c030"/><circle cx="1208.1" cy="515.5" r="1.2" fill="#f6c030"/><circle cx="977.3000000000001" cy="521.7" r="1.2" fill="#f6c030"/><circle cx="1208.1" cy="521.7" r="1.2" fill="#f6c030"/><circle cx="977.3000000000001" cy="529.0" r="1.2" fill="#f6c030"/><circle cx="1208.1" cy="529.0" r="1.2" fill="#f6c030"/><circle cx="977.3000000000001" cy="543.4" r="1.2" fill="#f6c030"/><circle cx="1208.1" cy="543.4" r="1.2" fill="#f6c030"/><circle cx="977.3000000000001" cy="563.1" r="1.2" fill="#f6c030"/><circle cx="1208.1" cy="563.1" r="1.2" fill="#f6c030"/><circle cx="977.3000000000001" cy="579.1" r="1.2" fill="#f6c030"/><circle cx="1208.1" cy="579.1" r="1.2" fill="#f6c030"/><circle cx="977.3000000000001" cy="599.1" r="1.2" fill="#f6c030"/><circle cx="1208.1" cy="599.1" r="1.2" fill="#f6c030"/>
<circle cx="835.1" cy="436.7" r="4.6" fill="#f05252"/><path d="M832.9,434.7h4.4M835.1,434.7v4.6" stroke="#5a1a1a" stroke-width="1.1" fill="none"/><circle cx="1350.3" cy="436.7" r="4.6" fill="#f05252"/><path d="M1348.1,434.7h4.4M1350.3,434.7v4.6" stroke="#5a1a1a" stroke-width="1.1" fill="none"/><circle cx="848.9" cy="436.7" r="4.6" fill="#f05252"/><path d="M846.7,434.7h4.4M848.9,434.7v4.6" stroke="#5a1a1a" stroke-width="1.1" fill="none"/><circle cx="1336.5" cy="436.7" r="4.6" fill="#f05252"/><path d="M1334.3,434.7h4.4M1336.5,434.7v4.6" stroke="#5a1a1a" stroke-width="1.1" fill="none"/><circle cx="923.8" cy="474.5" r="4.6" fill="#f05252"/><path d="M921.6,472.5h4.4M923.8,472.5v4.6" stroke="#5a1a1a" stroke-width="1.1" fill="none"/><circle cx="1261.6" cy="474.5" r="4.6" fill="#f05252"/><path d="M1259.4,472.5h4.4M1261.6,472.5v4.6" stroke="#5a1a1a" stroke-width="1.1" fill="none"/><circle cx="965.7" cy="496.5" r="4.6" fill="#f05252"/><path d="M963.5,494.5h4.4M965.7,494.5v4.6" stroke="#5a1a1a" stroke-width="1.1" fill="none"/><circle cx="1219.7" cy="496.5" r="4.6" fill="#f05252"/><path d="M1217.5,494.5h4.4M1219.7,494.5v4.6" stroke="#5a1a1a" stroke-width="1.1" fill="none"/><circle cx="936.3" cy="521.7" r="4.6" fill="#f05252"/><path d="M934.1,519.7h4.4M936.3,519.7v4.6" stroke="#5a1a1a" stroke-width="1.1" fill="none"/><circle cx="1249.1" cy="521.7" r="4.6" fill="#f05252"/><path d="M1246.9,519.7h4.4M1249.1,519.7v4.6" stroke="#5a1a1a" stroke-width="1.1" fill="none"/><circle cx="911.3" cy="599.3" r="4.6" fill="#f05252"/><path d="M909.1,597.3h4.4M911.3,597.3v4.6" stroke="#5a1a1a" stroke-width="1.1" fill="none"/><circle cx="1274.1" cy="599.3" r="4.6" fill="#f05252"/><path d="M1271.9,597.3h4.4M1274.1,597.3v4.6" stroke="#5a1a1a" stroke-width="1.1" fill="none"/><circle cx="852.1" cy="555.6" r="4.6" fill="#f05252"/><path d="M849.9,553.6h4.4M852.1,553.6v4.6" stroke="#5a1a1a" stroke-width="1.1" fill="none"/><circle cx="1333.3" cy="555.6" r="4.6" fill="#f05252"/><path d="M1331.1,553.6h4.4M1333.3,553.6v4.6" stroke="#5a1a1a" stroke-width="1.1" fill="none"/><circle cx="852.1" cy="576.2" r="4.6" fill="#f05252"/><path d="M849.9,574.2h4.4M852.1,574.2v4.6" stroke="#5a1a1a" stroke-width="1.1" fill="none"/><circle cx="1333.3" cy="576.2" r="4.6" fill="#f05252"/><path d="M1331.1,574.2h4.4M1333.3,574.2v4.6" stroke="#5a1a1a" stroke-width="1.1" fill="none"/><circle cx="828.0" cy="517.6" r="4.6" fill="#f05252"/><path d="M825.8,515.6h4.4M828.0,515.6v4.6" stroke="#5a1a1a" stroke-width="1.1" fill="none"/><circle cx="1357.4" cy="517.6" r="4.6" fill="#f05252"/><path d="M1355.2,515.6h4.4M1357.4,515.6v4.6" stroke="#5a1a1a" stroke-width="1.1" fill="none"/><circle cx="835.6" cy="517.6" r="4.6" fill="#f05252"/><path d="M833.4,515.6h4.4M835.6,515.6v4.6" stroke="#5a1a1a" stroke-width="1.1" fill="none"/><circle cx="1349.8" cy="517.6" r="4.6" fill="#f05252"/><path d="M1347.6,515.6h4.4M1349.8,515.6v4.6" stroke="#5a1a1a" stroke-width="1.1" fill="none"/><circle cx="876.2" cy="532.0" r="4.6" fill="#f05252"/><path d="M874.0,530.0h4.4M876.2,530.0v4.6" stroke="#5a1a1a" stroke-width="1.1" fill="none"/><circle cx="1309.2" cy="532.0" r="4.6" fill="#f05252"/><path d="M1307.0,530.0h4.4M1309.2,530.0v4.6" stroke="#5a1a1a" stroke-width="1.1" fill="none"/><circle cx="971.1" cy="447.9" r="4.6" fill="#f05252"/><path d="M968.9,445.9h4.4M971.1,445.9v4.6" stroke="#5a1a1a" stroke-width="1.1" fill="none"/><circle cx="1214.3" cy="447.9" r="4.6" fill="#f05252"/><path d="M1212.1,445.9h4.4M1214.3,445.9v4.6" stroke="#5a1a1a" stroke-width="1.1" fill="none"/><circle cx="971.1" cy="476.6" r="4.6" fill="#f05252"/><path d="M968.9,474.6h4.4M971.1,474.6v4.6" stroke="#5a1a1a" stroke-width="1.1" fill="none"/><circle cx="1214.3" cy="476.6" r="4.6" fill="#f05252"/><path d="M1212.1,474.6h4.4M1214.3,474.6v4.6" stroke="#5a1a1a" stroke-width="1.1" fill="none"/><circle cx="971.1" cy="489.1" r="4.6" fill="#f05252"/><path d="M968.9,487.1h4.4M971.1,487.1v4.6" stroke="#5a1a1a" stroke-width="1.1" fill="none"/><circle cx="1214.3" cy="489.1" r="4.6" fill="#f05252"/><path d="M1212.1,487.1h4.4M1214.3,487.1v4.6" stroke="#5a1a1a" stroke-width="1.1" fill="none"/><circle cx="971.1" cy="502.7" r="4.6" fill="#f05252"/><path d="M968.9,500.7h4.4M971.1,500.7v4.6" stroke="#5a1a1a" stroke-width="1.1" fill="none"/><circle cx="1214.3" cy="502.7" r="4.6" fill="#f05252"/><path d="M1212.1,500.7h4.4M1214.3,500.7v4.6" stroke="#5a1a1a" stroke-width="1.1" fill="none"/><circle cx="971.1" cy="508.4" r="4.6" fill="#f05252"/><path d="M968.9,506.4h4.4M971.1,506.4v4.6" stroke="#5a1a1a" stroke-width="1.1" fill="none"/><circle cx="1214.3" cy="508.4" r="4.6" fill="#f05252"/><path d="M1212.1,506.4h4.4M1214.3,506.4v4.6" stroke="#5a1a1a" stroke-width="1.1" fill="none"/><circle cx="971.1" cy="515.5" r="4.6" fill="#f05252"/><path d="M968.9,513.5h4.4M971.1,513.5v4.6" stroke="#5a1a1a" stroke-width="1.1" fill="none"/><circle cx="1214.3" cy="515.5" r="4.6" fill="#f05252"/><path d="M1212.1,513.5h4.4M1214.3,513.5v4.6" stroke="#5a1a1a" stroke-width="1.1" fill="none"/><circle cx="971.1" cy="521.7" r="4.6" fill="#f05252"/><path d="M968.9,519.7h4.4M971.1,519.7v4.6" stroke="#5a1a1a" stroke-width="1.1" fill="none"/><circle cx="1214.3" cy="521.7" r="4.6" fill="#f05252"/><path d="M1212.1,519.7h4.4M1214.3,519.7v4.6" stroke="#5a1a1a" stroke-width="1.1" fill="none"/><circle cx="971.1" cy="529.0" r="4.6" fill="#f05252"/><path d="M968.9,527.0h4.4M971.1,527.0v4.6" stroke="#5a1a1a" stroke-width="1.1" fill="none"/><circle cx="1214.3" cy="529.0" r="4.6" fill="#f05252"/><path d="M1212.1,527.0h4.4M1214.3,527.0v4.6" stroke="#5a1a1a" stroke-width="1.1" fill="none"/><circle cx="971.1" cy="543.4" r="4.6" fill="#f05252"/><path d="M968.9,541.4h4.4M971.1,541.4v4.6" stroke="#5a1a1a" stroke-width="1.1" fill="none"/><circle cx="1214.3" cy="543.4" r="4.6" fill="#f05252"/><path d="M1212.1,541.4h4.4M1214.3,541.4v4.6" stroke="#5a1a1a" stroke-width="1.1" fill="none"/><circle cx="971.1" cy="563.1" r="4.6" fill="#f05252"/><path d="M968.9,561.1h4.4M971.1,561.1v4.6" stroke="#5a1a1a" stroke-width="1.1" fill="none"/><circle cx="1214.3" cy="563.1" r="4.6" fill="#f05252"/><path d="M1212.1,561.1h4.4M1214.3,561.1v4.6" stroke="#5a1a1a" stroke-width="1.1" fill="none"/><circle cx="971.1" cy="579.1" r="4.6" fill="#f05252"/><path d="M968.9,577.1h4.4M971.1,577.1v4.6" stroke="#5a1a1a" stroke-width="1.1" fill="none"/><circle cx="1214.3" cy="579.1" r="4.6" fill="#f05252"/><path d="M1212.1,577.1h4.4M1214.3,577.1v4.6" stroke="#5a1a1a" stroke-width="1.1" fill="none"/><circle cx="971.1" cy="599.1" r="4.6" fill="#f05252"/><path d="M968.9,597.1h4.4M971.1,597.1v4.6" stroke="#5a1a1a" stroke-width="1.1" fill="none"/><circle cx="1214.3" cy="599.1" r="4.6" fill="#f05252"/><path d="M1212.1,597.1h4.4M1214.3,597.1v4.6" stroke="#5a1a1a" stroke-width="1.1" fill="none"/><circle cx="1092.7" cy="423.0" r="4.6" fill="#f05252"/><path d="M1090.5,421.0h4.4M1092.7,421.0v4.6" stroke="#5a1a1a" stroke-width="1.1" fill="none"/><circle cx="1092.7" cy="437.4" r="4.6" fill="#f05252"/><path d="M1090.5,435.4h4.4M1092.7,435.4v4.6" stroke="#5a1a1a" stroke-width="1.1" fill="none"/><circle cx="1092.7" cy="448.3" r="4.6" fill="#f05252"/><path d="M1090.5,446.3h4.4M1092.7,446.3v4.6" stroke="#5a1a1a" stroke-width="1.1" fill="none"/><circle cx="1092.7" cy="474.6" r="4.6" fill="#f05252"/><path d="M1090.5,472.6h4.4M1092.7,472.6v4.6" stroke="#5a1a1a" stroke-width="1.1" fill="none"/><circle cx="1092.7" cy="502.6" r="4.6" fill="#f05252"/><path d="M1090.5,500.6h4.4M1092.7,500.6v4.6" stroke="#5a1a1a" stroke-width="1.1" fill="none"/><circle cx="1092.7" cy="508.4" r="4.6" fill="#f05252"/><path d="M1090.5,506.4h4.4M1092.7,506.4v4.6" stroke="#5a1a1a" stroke-width="1.1" fill="none"/><circle cx="1092.7" cy="515.5" r="4.6" fill="#f05252"/><path d="M1090.5,513.5h4.4M1092.7,513.5v4.6" stroke="#5a1a1a" stroke-width="1.1" fill="none"/><circle cx="1092.7" cy="521.7" r="4.6" fill="#f05252"/><path d="M1090.5,519.7h4.4M1092.7,519.7v4.6" stroke="#5a1a1a" stroke-width="1.1" fill="none"/><circle cx="1092.7" cy="529.0" r="4.6" fill="#f05252"/><path d="M1090.5,527.0h4.4M1092.7,527.0v4.6" stroke="#5a1a1a" stroke-width="1.1" fill="none"/><circle cx="1092.7" cy="543.6" r="4.6" fill="#f05252"/><path d="M1090.5,541.6h4.4M1092.7,541.6v4.6" stroke="#5a1a1a" stroke-width="1.1" fill="none"/><circle cx="1092.7" cy="563.3" r="4.6" fill="#f05252"/><path d="M1090.5,561.3h4.4M1092.7,561.3v4.6" stroke="#5a1a1a" stroke-width="1.1" fill="none"/><circle cx="1092.7" cy="574.4" r="4.6" fill="#f05252"/><path d="M1090.5,572.4h4.4M1092.7,572.4v4.6" stroke="#5a1a1a" stroke-width="1.1" fill="none"/><circle cx="1092.7" cy="599.3" r="4.6" fill="#f05252"/><path d="M1090.5,597.3h4.4M1092.7,597.3v4.6" stroke="#5a1a1a" stroke-width="1.1" fill="none"/>
<circle cx="803.4" cy="517.6" r="4.5" fill="#b478ea"/><path d="M801.2,515.6h4.4M803.4,515.6v4.6" stroke="#4a2a7a" stroke-width="1.1" fill="none"/>
<circle cx="1382.0" cy="517.6" r="4.5" fill="#b478ea"/><path d="M1379.8,515.6h4.4M1382.0,515.6v4.6" stroke="#4a2a7a" stroke-width="1.1" fill="none"/>
<circle cx="1092.7" cy="375.1" r="4.5" fill="#b478ea"/><path d="M1090.5,373.1h4.4M1092.7,373.1v4.6" stroke="#4a2a7a" stroke-width="1.1" fill="none"/>
<path d="M839.5,513.6l4.6,3.6l-4.6,3.6z" fill="#e03232"/><path d="M1345.9,513.6l-4.6,3.6l4.6,3.6z" fill="#e03232"/>
<path d="M1088.2,437.4l-3.4,-2.6v5.2zM1097.2,437.4l3.4,-2.6v5.2z" fill="#e03232"/>
<path d="M1149,380.5H1190" stroke="#a8742c" stroke-width="0.9"/>
<path d="M1201,380.5H1242" stroke="#36e036" stroke-width="1"/>
<circle cx="1143.6" cy="380.5" r="5.7" fill="#f6f03c"/><text x="1143.6" y="384.1" class="pp">P</text>
<circle cx="1247.3" cy="380.5" r="5.7" fill="#f6f03c"/><text x="1247.3" y="384.1" class="pp">P</text>
<path d="M1165.2,375.6h11.2l-2.4,4.9l2.4,4.9h-11.2l2.4,-4.9z" fill="#c9a468"/><path d="M1167.6,378.4l6.4,4.2M1174,378.4l-6.4,4.2" stroke="#6a4a1a" stroke-width="0.9"/>
<rect x="1188" y="379" width="3" height="3" fill="#8a5a1a"/>
<circle cx="1195.7" cy="380.5" r="5.4" fill="#07078e"/>
<rect x="1216.2" y="375" width="11.2" height="11" fill="#eaffea" stroke="#3ee03e" stroke-width="1.4"/><circle cx="1221.8" cy="380.5" r="4" fill="none" stroke="#9af09a" stroke-width="0.8"/>
<rect x="1237.8" y="379" width="3.2" height="3" fill="#22cc22"/>
<path d="M1141.4,372.6h4.6M1245,372.6h4.6M1220.4,372h2.6" stroke="#777" stroke-width="0.9"/>
<path d="M1194.2,379.2l2.6,2.8" stroke="#4a4ad0" stroke-width="1"/>
</svg></div>
</body></html>
